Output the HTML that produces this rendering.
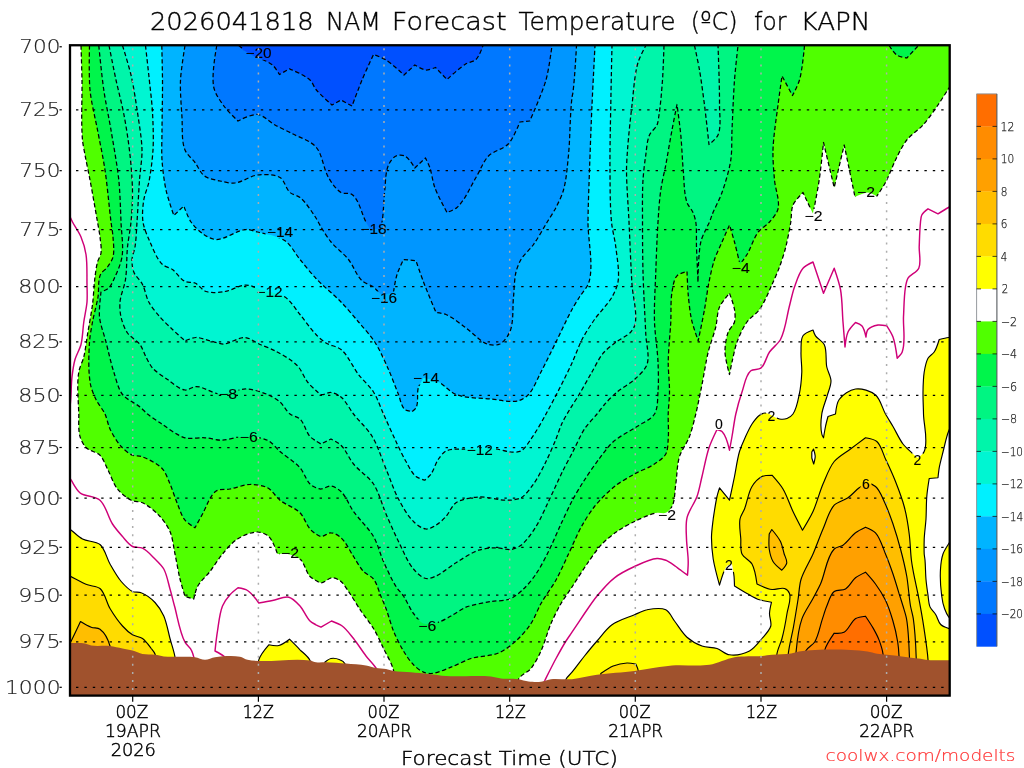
<!DOCTYPE html><html><head><meta charset="utf-8"><title>NAM Forecast Temperature KAPN</title><style>html,body{margin:0;padding:0;background:#fff;overflow:hidden}body{width:1024px;height:768px;position:relative}</style></head><body><svg width="1024" height="768" viewBox="0 0 1024 768" style="position:absolute;left:0;top:0">
<defs><clipPath id="pc"><rect x="70.00" y="45.25" width="879.70" height="650.35"/></clipPath>
<mask id="lm" maskUnits="userSpaceOnUse" x="0" y="0" width="1024" height="768"><rect x="0" y="0" width="1024" height="768" fill="#fff"/><rect x="244.0" y="46.7" width="29.0" height="13" fill="#000"/><rect x="265.5" y="225.5" width="29.0" height="13" fill="#000"/><rect x="359.0" y="222.5" width="29.0" height="13" fill="#000"/><rect x="255.0" y="285.0" width="29.0" height="13" fill="#000"/><rect x="369.5" y="291.5" width="29.0" height="13" fill="#000"/><rect x="411.5" y="371.5" width="29.0" height="13" fill="#000"/><rect x="217.5" y="387.5" width="21.0" height="13" fill="#000"/><rect x="238.2" y="430.0" width="21.0" height="13" fill="#000"/><rect x="465.2" y="443.0" width="29.0" height="13" fill="#000"/><rect x="279.5" y="546.2" width="21.0" height="13" fill="#000"/><rect x="416.8" y="619.5" width="21.0" height="13" fill="#000"/><rect x="656.5" y="508.5" width="21.0" height="13" fill="#000"/><rect x="730.2" y="261.8" width="21.0" height="13" fill="#000"/><rect x="803.0" y="209.0" width="21.0" height="13" fill="#000"/><rect x="855.5" y="185.5" width="21.0" height="13" fill="#000"/><rect x="713.6" y="417.0" width="10.8" height="13" fill="#000"/><rect x="766.1" y="409.5" width="10.8" height="13" fill="#000"/><rect x="723.6" y="558.8" width="10.8" height="13" fill="#000"/><rect x="912.1" y="453.2" width="10.8" height="13" fill="#000"/><rect x="860.6" y="477.0" width="10.8" height="13" fill="#000"/></mask></defs>
<rect x="0" y="0" width="1024" height="768" fill="#fff"/>
<g clip-path="url(#pc)">
<path d="M81.0 20.0 C81.0 20.0 80.9 37.9 81.0 45.5 C81.2 55.9 81.8 69.6 82.0 80.0 C82.3 98.0 80.9 122.1 82.5 140.0 C82.9 144.5 84.2 150.5 85.0 155.0 C86.4 162.5 88.6 172.5 90.0 180.0 C92.4 192.6 95.3 209.4 97.5 222.0 C98.3 226.5 99.5 232.5 100.0 237.0 C100.5 241.8 101.7 248.2 101.0 253.0 C100.6 255.9 98.3 259.2 97.5 262.0 C96.3 266.4 95.6 272.5 95.0 277.0 C93.9 285.2 93.6 296.3 92.5 304.5 C91.3 313.5 89.0 325.5 87.5 334.5 C86.4 341.2 85.4 350.4 83.8 357.0 C82.6 361.6 79.5 367.3 78.8 372.0 C76.7 384.4 78.4 401.4 78.8 414.0 C78.9 420.8 78.1 430.0 80.0 436.5 C81.1 440.2 83.5 445.0 86.2 447.8 C89.6 451.1 96.7 451.9 100.0 455.2 C103.3 458.6 105.3 464.8 107.5 469.0 C110.6 474.9 113.3 483.8 117.5 489.0 C120.8 493.2 126.5 497.9 131.2 500.2 C134.4 501.8 139.4 501.3 142.5 502.8 C148.5 505.6 155.5 511.6 160.0 516.5 C163.7 520.5 167.9 526.5 170.0 531.5 C172.7 537.9 173.6 547.2 175.0 554.0 C176.6 561.5 178.2 571.6 180.0 579.0 C181.3 584.3 185.0 596.5 185.0 596.5 L193.8 599.0 C193.8 599.0 195.6 589.9 197.5 586.5 C200.3 581.3 206.4 576.1 210.0 571.5 C213.9 566.4 218.3 558.9 222.5 554.0 C226.6 549.1 232.1 542.4 237.5 539.0 C242.9 535.6 251.1 531.9 257.5 532.0 C261.1 532.1 266.1 534.0 268.8 536.5 C273.1 540.5 277.5 554.0 277.5 554.0 C277.5 554.0 284.6 553.4 287.5 554.0 C291.5 554.8 297.0 556.3 300.0 559.0 C304.6 563.0 305.9 572.1 310.0 576.5 C311.5 578.1 314.1 579.5 316.0 580.5 C317.4 581.3 319.4 582.7 321.0 582.8 C324.7 582.8 328.6 577.8 332.2 577.8 C335.1 577.7 338.8 579.7 341.0 581.5 C343.9 583.8 346.4 588.4 348.5 591.5 C352.5 597.2 357.1 605.2 361.0 611.0 C364.6 616.3 370.2 623.0 373.5 628.5 C377.0 634.2 380.6 642.4 383.5 648.5 C386.6 655.0 392.0 663.4 393.5 670.5 C396.6 685.0 393.5 720.0 393.5 720.0 L518.5 720.0 C518.5 720.0 513.4 690.4 518.5 679.2 C520.6 674.8 527.9 672.3 531.0 668.5 C534.8 663.8 538.5 656.5 541.0 651.0 C544.7 643.0 547.5 631.6 551.0 623.5 C553.7 617.3 557.6 609.3 561.0 603.5 C564.0 598.4 568.7 592.0 572.0 587.0 C576.5 580.1 582.3 570.7 587.0 564.0 C591.3 557.9 596.8 549.4 602.0 544.0 C606.0 539.8 612.2 534.8 617.0 531.5 C622.0 528.1 629.0 524.1 634.5 521.5 C641.0 518.4 649.9 514.1 657.0 512.8 C659.6 512.3 663.3 513.8 665.8 512.8 C668.2 511.7 670.8 508.9 672.0 506.5 C675.1 500.4 674.7 490.8 675.8 484.0 C677.0 475.8 677.0 464.5 679.5 456.5 C681.5 450.1 687.1 442.8 689.5 436.5 C692.0 430.0 694.1 420.8 695.8 414.0 C697.9 405.2 700.2 393.4 702.0 384.5 C704.0 374.8 705.9 361.6 708.2 352.0 C710.1 344.4 713.9 334.6 715.8 327.0 C717.2 321.1 717.1 312.6 719.5 307.0 C721.5 302.3 729.5 293.2 729.5 293.2 C729.5 293.2 733.7 304.5 734.5 309.5 C735.1 313.2 735.5 318.4 734.5 322.0 C733.5 325.4 729.5 328.7 728.2 332.0 C726.1 337.7 724.9 345.9 725.0 352.0 C725.1 358.9 729.5 374.5 729.5 374.5 C729.5 374.5 731.2 365.7 732.0 362.0 C733.4 356.0 734.9 347.8 737.0 342.0 C739.3 335.7 743.1 327.4 747.0 322.0 C750.1 317.7 756.4 313.8 759.5 309.5 C764.4 302.7 768.5 292.1 772.0 284.5 C774.4 279.3 777.5 272.4 779.5 267.0 C781.7 261.1 784.2 253.1 785.8 247.0 C787.6 239.6 789.5 229.5 790.8 222.0 C791.6 216.9 791.0 209.7 793.0 205.0 C794.9 200.6 803.0 192.5 803.0 192.5 L813.0 213.8 C813.0 213.8 817.7 190.2 819.2 180.0 C820.9 168.8 823.5 142.5 823.5 142.5 L834.2 187.5 L844.2 145.0 L855.0 197.0 C855.0 197.0 863.9 192.4 868.0 192.5 C870.9 192.6 876.8 196.2 876.8 196.2 C876.8 196.2 883.2 186.8 885.5 182.5 C889.0 176.0 892.2 166.6 895.5 160.0 C898.6 153.8 902.5 145.4 906.8 140.0 C910.9 134.8 918.6 129.9 923.0 125.0 C928.0 119.4 933.7 111.2 938.0 105.0 C941.3 100.2 945.3 93.6 948.5 88.8 C956.3 77.0 970.8 63.5 975.0 50.0 C977.7 41.4 975.0 20.0 975.0 20.0 Z" fill="#50ff00"/>
<path d="M89.5 20.0 C89.5 20.0 89.5 37.9 89.5 45.5 C89.6 58.9 88.7 76.7 90.0 90.0 C91.2 102.2 95.2 118.0 97.5 130.0 C99.8 142.0 103.2 157.9 105.0 170.0 C107.3 185.5 109.1 206.4 111.0 222.0 C111.6 226.5 112.7 232.5 113.0 237.0 C113.4 243.0 114.5 251.2 113.0 257.0 C112.1 260.3 109.5 264.2 107.5 267.0 C105.7 269.5 101.8 271.7 100.5 274.5 C97.7 280.7 99.1 290.3 98.0 297.0 C96.7 304.6 93.9 314.4 92.5 322.0 C91.4 328.0 89.9 335.9 89.5 342.0 C88.7 354.7 88.1 372.0 90.5 384.5 C91.4 389.2 93.9 395.2 96.0 399.5 C98.2 404.1 102.8 409.4 105.0 414.0 C107.0 418.3 108.0 424.7 110.0 429.0 C112.7 434.6 117.0 441.9 121.2 446.5 C124.1 449.7 128.6 453.6 132.5 455.2 C134.9 456.3 138.7 455.6 141.2 456.5 C148.2 458.9 157.5 463.6 162.5 469.0 C165.9 472.7 168.0 479.4 170.0 484.0 C172.6 489.9 175.0 498.1 177.5 504.0 C179.6 509.0 181.6 516.1 185.0 520.2 C187.4 523.2 195.0 527.8 195.0 527.8 C195.0 527.8 200.2 518.1 202.5 514.0 C206.5 507.0 209.6 495.5 216.2 491.0 C219.7 488.7 225.9 489.8 230.0 489.0 C236.0 487.9 243.9 484.6 250.0 484.5 C255.3 484.4 262.8 485.3 267.5 487.8 C272.2 490.2 275.8 496.9 280.0 500.2 C285.5 504.7 295.0 507.7 300.0 512.8 C304.0 516.8 306.3 524.7 310.0 529.0 C311.5 530.8 314.0 532.7 316.0 534.0 C317.4 534.9 319.3 536.4 321.0 536.5 C324.2 536.7 327.8 532.6 331.0 532.8 C334.3 532.9 338.5 535.5 341.0 537.8 C346.1 542.2 349.8 550.9 353.5 556.5 C356.5 561.0 359.8 567.6 363.5 571.5 C366.1 574.2 371.2 576.1 373.5 579.0 C377.0 583.5 378.8 591.2 381.0 596.5 C382.5 600.1 384.6 604.8 386.0 608.5 C388.5 615.2 390.8 624.4 393.5 631.0 C396.1 637.2 400.0 645.3 403.5 651.0 C406.1 655.4 409.9 661.1 413.5 664.8 C416.1 667.4 420.1 670.8 423.5 672.2 C425.6 673.1 428.7 673.7 431.0 673.5 C437.3 673.1 445.1 669.5 451.0 667.2 C457.1 665.0 464.8 660.5 471.0 658.5 C479.0 656.0 490.7 656.3 498.5 653.0 C504.4 650.5 511.3 645.3 516.0 641.0 C521.1 636.4 527.2 629.3 531.0 623.5 C534.7 617.9 537.7 609.3 541.0 603.5 C545.1 596.2 551.9 587.3 556.0 580.0 C560.2 572.4 564.8 561.8 568.5 554.0 C572.4 545.8 577.1 534.5 581.5 526.5 C585.0 520.3 590.0 512.1 594.5 506.5 C599.8 499.9 607.9 491.8 614.5 486.5 C620.0 482.1 628.3 477.5 634.5 474.0 C640.4 470.7 648.9 467.8 654.5 464.0 C658.2 461.5 663.6 458.0 665.8 454.0 C668.0 450.0 667.9 443.5 668.2 439.0 C668.9 431.5 668.0 421.5 668.2 414.0 C668.4 407.4 669.5 398.6 669.5 392.0 C669.6 383.0 668.2 371.0 668.2 362.0 C668.4 350.0 670.1 334.0 670.8 322.0 C671.2 313.0 670.5 300.9 672.0 292.0 C672.9 287.0 673.6 279.5 677.0 275.8 C679.2 273.3 687.0 271.5 687.0 271.5 C687.0 271.5 687.6 287.6 688.2 294.5 C688.9 302.0 689.9 312.1 691.5 319.5 C692.9 326.0 698.2 340.8 698.2 340.8 C698.2 340.8 702.8 318.9 704.5 309.5 C706.0 301.3 707.3 290.2 709.0 282.0 C710.4 275.2 712.3 266.1 714.5 259.5 C716.3 254.1 719.7 247.2 722.0 242.0 C724.2 236.9 729.5 225.0 729.5 225.0 C729.5 225.0 733.1 236.9 734.5 242.0 C736.3 248.7 740.0 264.5 740.0 264.5 C740.0 264.5 745.1 257.6 747.0 254.5 C750.9 248.0 753.7 238.0 758.2 232.0 C761.0 228.4 766.6 225.4 769.5 222.0 C772.5 218.5 776.9 213.5 778.0 209.0 C780.0 200.5 775.2 188.7 774.5 180.0 C773.7 171.0 772.7 159.0 773.0 150.0 C773.4 136.4 776.3 118.5 778.0 105.0 C779.1 96.3 782.0 76.0 782.0 76.0 L792.5 95.5 C792.5 95.5 798.1 84.9 799.5 80.0 C802.4 70.0 803.7 55.9 804.5 45.5 C805.1 37.9 804.5 20.0 804.5 20.0 Z" fill="#00f54b"/>
<path d="M889.2 20.0 C889.2 20.0 886.7 38.3 889.2 45.5 C890.4 48.9 893.7 53.0 896.8 55.0 C899.3 56.8 906.8 58.0 906.8 58.0 C906.8 58.0 916.2 50.6 918.0 46.0 C920.9 38.7 918.0 20.0 918.0 20.0 Z" fill="#00f54b"/>
<path d="M98.8 20.0 C98.8 20.0 98.3 37.9 98.8 45.5 C99.5 58.9 101.8 76.7 103.8 90.0 C105.5 102.1 109.0 118.0 111.0 130.0 C113.5 145.0 117.2 164.9 118.8 180.0 C120.1 192.6 120.5 209.4 121.0 222.0 C121.4 232.5 123.7 246.6 122.0 257.0 C120.8 264.1 116.8 273.0 113.8 279.5 C112.5 282.2 110.9 286.0 108.8 288.0 C106.8 289.8 101.0 292.0 101.0 292.0 C101.0 292.0 98.8 309.5 99.5 317.0 C100.3 324.7 104.1 334.5 106.0 342.0 C108.3 351.0 110.9 363.2 113.8 372.0 C116.0 378.9 118.1 388.8 122.5 394.5 C126.5 399.6 135.0 402.9 140.0 407.0 C142.4 408.9 145.1 412.1 147.5 414.0 C151.1 416.9 156.2 420.3 160.0 422.8 C167.3 427.5 176.6 435.4 185.0 437.8 C190.8 439.4 199.0 437.3 205.0 437.8 C210.3 438.1 217.2 440.4 222.5 440.2 C227.8 440.1 234.7 437.2 240.0 437.0 C248.3 436.7 259.9 436.8 267.5 440.2 C272.1 442.3 276.2 448.2 280.0 451.5 C285.9 456.5 294.9 461.9 300.0 467.8 C303.8 472.1 306.0 479.9 310.0 484.0 C311.5 485.5 314.0 486.9 316.0 487.8 C317.4 488.4 319.5 489.0 321.0 489.0 C324.1 488.9 327.9 485.7 331.0 486.0 C334.4 486.4 338.5 489.1 341.0 491.5 C346.1 496.4 349.4 505.7 353.5 511.5 C359.1 519.3 368.7 528.2 373.5 536.5 C377.6 543.5 380.2 554.1 383.5 561.5 C386.9 569.1 391.5 579.4 396.0 586.5 C397.9 589.6 401.5 593.0 403.5 596.0 C406.9 601.0 409.8 608.7 413.5 613.5 C416.1 616.9 419.5 622.0 423.5 623.5 C427.7 625.1 434.2 623.5 438.5 622.2 C442.5 621.1 447.3 618.0 451.0 616.0 C455.6 613.5 461.2 609.2 466.0 607.2 C473.2 604.4 483.4 602.9 491.0 601.5 C496.6 600.5 504.5 601.1 509.8 599.0 C514.5 597.1 519.8 592.5 523.5 589.0 C527.8 585.0 532.7 578.8 536.0 574.0 C540.4 567.6 545.0 558.4 548.5 551.5 C552.6 543.4 557.2 532.2 561.0 524.0 C564.2 517.1 568.4 507.8 572.0 501.0 C575.2 495.0 579.8 487.2 583.5 481.5 C587.9 474.6 594.1 465.5 599.0 459.0 C603.1 453.6 608.4 446.0 613.5 441.5 C619.8 436.0 630.1 431.2 637.0 426.5 C642.3 422.9 651.1 419.5 654.5 414.0 C658.0 408.3 657.5 398.7 658.0 392.0 C658.7 383.0 658.4 371.0 658.0 362.0 C657.5 350.0 654.9 334.0 654.5 322.0 C654.0 307.0 655.2 287.0 655.8 272.0 C656.3 257.0 657.0 237.0 658.0 222.0 C658.6 212.4 659.4 199.5 660.8 190.0 C661.8 182.4 664.3 172.5 665.8 165.0 C667.7 154.5 670.0 140.5 672.0 130.0 C673.4 122.3 677.0 104.5 677.0 104.5 C677.0 104.5 679.9 125.8 680.8 135.0 C681.8 145.5 682.3 159.5 683.2 170.0 C684.2 179.8 683.8 193.2 687.0 202.5 C688.1 205.8 691.6 209.3 693.0 212.5 C694.2 215.2 695.3 219.1 695.8 222.0 C696.9 229.4 696.2 239.5 696.5 247.0 C696.9 257.5 698.0 282.0 698.0 282.0 C698.0 282.0 698.1 253.7 700.8 242.0 C701.6 238.1 704.1 233.2 705.8 229.5 C706.8 227.2 708.5 224.3 709.5 222.0 C710.4 219.9 711.2 217.1 712.0 215.0 C714.7 208.1 719.5 199.5 722.0 192.5 C725.4 183.0 729.2 170.0 730.8 160.0 C732.1 151.1 731.6 139.0 732.0 130.0 C732.7 115.0 733.4 95.0 734.5 80.0 C735.3 69.6 737.5 55.9 738.0 45.5 C738.4 37.9 738.0 20.0 738.0 20.0 Z" fill="#00f582"/>
<path d="M109.0 20.0 C109.0 20.0 108.2 37.9 109.0 45.5 C110.1 56.0 113.8 69.7 116.0 80.0 C118.3 90.5 122.0 104.4 124.0 115.0 C126.3 126.9 128.7 142.9 130.0 155.0 C131.2 166.1 132.4 180.9 132.5 192.0 C132.6 201.0 131.9 213.0 131.0 222.0 C130.3 229.5 128.3 239.5 127.5 247.0 C126.5 256.7 127.0 269.8 125.5 279.5 C124.5 286.4 120.6 295.1 120.0 302.0 C119.6 306.5 120.0 312.6 121.0 317.0 C122.2 322.0 124.5 328.7 127.5 333.0 C130.4 337.2 137.0 340.4 140.0 344.5 C142.5 347.8 144.0 353.3 146.0 357.0 C147.8 360.4 150.0 365.1 152.5 368.0 C156.3 372.2 162.8 376.3 167.5 379.5 C172.6 382.9 178.9 389.3 185.0 390.0 C188.4 390.4 192.5 386.5 196.0 386.5 C203.5 386.5 212.5 393.6 220.0 394.0 C227.9 394.4 238.1 388.8 246.0 389.0 C252.7 389.2 261.4 391.9 267.5 394.5 C271.5 396.2 276.7 399.2 280.0 402.0 C283.6 405.0 286.3 411.1 290.0 414.0 C292.6 416.1 297.6 416.7 300.0 419.0 C304.4 423.2 306.0 432.0 310.0 436.5 C311.5 438.2 314.1 439.7 316.0 441.0 C317.5 442.0 321.0 444.0 321.0 444.0 L331.0 439.0 C331.0 439.0 338.5 442.8 341.0 445.2 C345.9 450.0 349.2 458.8 353.5 464.0 C358.9 470.6 368.8 476.9 373.5 484.0 C378.9 492.1 382.1 505.1 386.0 514.0 C389.6 522.3 394.5 533.4 398.5 541.5 C402.7 549.9 407.4 561.9 413.5 569.0 C416.6 572.6 421.4 577.6 426.0 578.5 C429.0 579.1 433.2 577.2 436.0 576.0 C442.6 573.1 449.8 566.5 456.0 562.8 C462.6 558.7 471.2 552.7 478.5 550.2 C483.5 548.6 490.7 547.8 496.0 547.8 C500.5 547.7 506.5 550.1 511.0 549.5 C514.2 549.0 518.4 547.2 521.0 545.2 C526.7 540.9 532.1 532.6 536.0 526.5 C540.5 519.4 544.9 509.0 548.5 501.5 C552.8 492.6 558.1 480.4 562.5 471.5 C565.5 465.4 569.9 457.5 573.0 451.5 C576.5 444.8 580.3 435.3 584.5 429.0 C587.7 424.1 593.3 418.5 597.0 414.0 C599.3 411.2 602.1 407.2 604.5 404.5 C608.0 400.5 613.0 395.4 617.0 392.0 C621.9 387.8 629.8 383.9 634.5 379.5 C638.8 375.5 645.1 370.0 647.0 364.5 C649.9 356.0 646.1 343.5 645.8 334.5 C644.9 315.7 643.5 290.8 643.0 272.0 C642.6 257.0 642.5 237.0 642.5 222.0 C642.5 209.4 642.2 192.6 643.0 180.0 C643.5 172.5 644.6 162.5 645.8 155.0 C646.6 149.0 647.0 140.6 649.5 135.0 C651.0 131.6 655.5 128.4 657.0 125.0 C658.2 122.2 658.5 118.0 659.0 115.0 C660.6 104.6 661.7 90.5 662.5 80.0 C663.2 69.7 663.8 55.9 664.0 45.5 C664.2 37.9 664.0 20.0 664.0 20.0 Z" fill="#00f5aa"/>
<path d="M694.5 20.0 C694.5 20.0 693.7 37.9 694.5 45.5 C695.3 53.0 698.2 62.6 699.5 70.0 C701.3 80.5 703.1 94.5 704.5 105.0 C706.0 116.8 709.0 144.5 709.0 144.5 C709.0 144.5 716.5 138.6 718.0 135.0 C721.5 126.7 719.4 114.0 719.5 105.0 C719.7 87.1 718.2 63.4 718.0 45.5 C717.9 37.9 718.0 20.0 718.0 20.0 Z" fill="#00f5aa"/>
<path d="M122.5 20.0 C122.5 20.0 121.4 37.9 122.5 45.5 C123.8 54.6 128.9 66.0 131.0 75.0 C133.6 86.1 135.8 101.2 137.5 112.5 C139.1 123.7 141.8 138.7 142.0 150.0 C142.2 159.0 140.1 171.0 139.5 180.0 C138.6 192.6 137.9 209.4 137.0 222.0 C136.5 229.5 136.2 239.6 135.0 247.0 C134.4 250.8 132.2 255.6 132.0 259.5 C131.8 263.3 132.4 268.5 133.8 272.0 C135.4 276.3 140.4 280.4 142.5 284.5 C145.1 289.5 146.1 297.1 148.8 302.0 C151.4 307.0 156.3 312.8 160.0 317.0 C163.5 321.0 168.7 325.8 172.5 329.5 C176.2 333.0 185.0 340.8 185.0 340.8 C185.0 340.8 192.6 337.6 196.0 337.5 C200.3 337.4 205.8 339.8 210.0 340.8 C214.1 341.7 219.5 344.1 223.8 344.0 C230.4 343.8 238.3 337.0 245.0 337.5 C250.0 337.8 255.5 342.5 260.0 344.5 C264.5 346.5 270.7 348.4 275.0 350.8 C282.2 354.6 291.9 359.9 297.5 365.8 C301.5 369.9 304.0 377.5 307.5 382.0 C309.7 384.8 313.3 388.1 316.0 390.5 C317.4 391.8 319.1 394.0 321.0 394.5 C324.0 395.2 328.0 392.2 331.0 392.5 C334.3 392.9 338.4 394.9 341.0 397.0 C345.9 401.0 349.6 409.0 353.5 414.0 C358.9 420.9 367.7 429.0 372.2 436.5 C377.8 445.5 381.9 459.2 386.0 469.0 C389.8 478.0 393.9 490.4 398.5 499.0 C402.3 506.2 407.6 515.9 413.5 521.5 C416.7 524.5 421.6 528.6 426.0 529.0 C429.2 529.3 433.2 526.9 436.0 525.2 C439.4 523.2 443.3 519.4 446.0 516.5 C449.4 512.7 451.8 505.6 456.0 502.8 C461.8 498.8 471.6 497.5 478.5 497.0 C487.5 496.4 499.5 500.7 508.5 500.2 C512.3 500.1 517.7 499.6 521.0 497.8 C525.9 495.0 530.2 488.5 533.5 484.0 C538.0 477.7 542.6 468.4 546.0 461.5 C549.3 454.9 553.2 445.8 556.0 439.0 C557.9 434.3 559.9 427.9 562.0 423.3 C564.1 418.8 567.5 413.2 570.0 409.0 C572.5 404.8 576.2 399.4 578.7 395.2 C582.6 388.7 587.4 379.8 591.2 373.3 C594.9 367.0 599.0 358.0 603.7 352.5 C606.9 348.8 612.3 345.0 616.2 342.0 C620.4 338.8 627.2 335.9 630.8 332.0 C632.5 330.1 634.4 327.0 635.0 324.5 C637.6 312.8 632.7 296.5 632.0 284.5 C630.8 265.8 629.9 240.7 629.0 222.0 C628.3 206.4 626.5 185.6 626.5 170.0 C626.5 164.0 627.1 156.0 627.5 150.0 C628.5 136.5 630.4 118.5 632.0 105.0 C633.5 92.2 634.4 74.9 638.0 62.5 C639.6 57.1 644.6 51.0 645.8 45.5 C647.4 38.0 645.8 20.0 645.8 20.0 Z" fill="#00f5d2"/>
<path d="M145.5 20.0 C145.5 20.0 145.1 37.9 145.5 45.5 C146.0 54.4 147.8 66.1 148.8 75.0 C149.9 86.2 151.9 101.2 152.5 112.5 C153.1 123.7 153.7 138.8 153.0 150.0 C152.4 159.8 150.7 172.9 148.8 182.5 C147.6 187.8 144.6 194.6 143.8 200.0 C142.7 206.5 142.0 215.5 143.0 222.0 C144.0 228.3 147.4 236.2 150.0 242.0 C153.2 249.0 156.9 259.2 162.5 264.5 C164.9 266.8 169.8 267.6 172.5 269.5 C176.7 272.5 180.3 279.2 185.0 281.5 C187.7 282.8 192.2 281.8 195.0 283.0 C198.8 284.6 202.1 290.2 206.0 291.5 C211.4 293.3 219.4 292.4 225.0 291.5 C231.5 290.5 239.4 285.0 246.0 285.0 C251.0 285.0 257.2 288.5 262.0 290.0 C268.9 292.1 279.0 293.1 285.0 297.0 C290.8 300.8 295.6 309.2 300.0 314.5 C304.9 320.4 310.6 329.0 316.0 334.5 C318.7 337.3 322.7 340.9 326.0 343.0 C330.2 345.6 337.2 346.4 341.0 349.5 C348.1 355.3 352.9 367.3 358.5 374.5 C362.7 380.0 369.8 386.2 373.5 392.0 C377.4 398.1 380.5 407.4 383.5 414.0 C387.2 422.2 392.1 433.3 396.0 441.5 C398.9 447.6 402.6 455.7 406.0 461.5 C408.7 466.2 411.8 473.0 416.0 476.5 C418.2 478.3 424.8 480.2 424.8 480.2 C424.8 480.2 429.4 476.2 431.0 474.0 C433.9 469.9 435.6 463.1 438.5 459.0 C440.4 456.3 443.1 452.5 446.0 451.0 C451.4 448.3 460.0 449.3 466.0 449.0 C475.0 448.6 487.0 448.1 496.0 449.0 C500.6 449.5 506.4 451.8 511.0 452.0 C514.0 452.1 518.3 452.4 521.0 451.0 C525.1 448.8 528.3 442.8 531.0 439.0 C536.1 431.9 541.8 421.7 546.0 414.0 C554.3 399.0 564.7 378.6 572.0 363.0 C575.2 356.1 578.5 346.3 582.0 339.5 C585.3 333.2 590.4 325.3 594.5 319.5 C599.4 312.5 607.7 304.4 612.0 297.0 C614.4 292.8 617.2 286.8 618.0 282.0 C619.7 271.6 617.0 257.5 615.8 247.0 C614.9 239.4 612.2 229.6 611.5 222.0 C610.0 206.5 610.1 185.6 610.0 170.0 C609.8 150.5 610.4 124.5 610.8 105.0 C611.0 87.1 611.8 63.4 612.0 45.5 C612.1 37.9 612.0 20.0 612.0 20.0 Z" fill="#00f0ff"/>
<path d="M161.8 20.0 C161.8 20.0 161.7 37.9 161.8 45.5 C161.9 55.9 162.4 69.6 162.5 80.0 C162.6 95.0 162.1 115.0 162.0 130.0 C162.0 139.0 161.4 151.0 162.0 160.0 C162.6 169.1 164.1 181.1 166.0 190.0 C167.7 197.8 173.8 215.5 173.8 215.5 L183.8 206.0 C183.8 206.0 188.0 217.7 191.0 222.0 C194.1 226.4 199.3 231.6 203.8 234.5 C207.1 236.7 212.0 239.4 216.0 239.5 C225.5 239.8 236.5 230.0 246.0 229.5 C249.5 229.3 254.1 231.1 257.5 232.0 C265.9 234.2 277.9 235.8 285.0 240.8 C290.9 244.8 295.4 253.9 300.0 259.5 C304.7 265.3 310.9 273.1 316.0 278.5 C323.1 286.0 333.9 294.6 341.0 302.0 C346.5 307.7 353.4 315.9 358.5 322.0 C363.5 327.9 370.6 335.5 374.8 342.0 C379.8 349.8 384.7 361.1 388.5 369.5 C391.8 376.9 395.4 387.0 398.5 394.5 C400.3 399.0 401.1 406.3 404.8 409.5 C406.5 411.0 412.2 411.5 412.2 411.5 C412.2 411.5 415.3 409.4 416.0 408.0 C418.9 402.3 416.5 393.0 418.5 387.0 C419.5 384.1 423.5 378.0 423.5 378.0 C423.5 378.0 434.3 380.0 438.5 382.0 C444.3 384.8 450.0 392.1 456.0 394.5 C465.9 398.4 480.5 398.0 491.0 399.0 C499.2 399.8 510.5 402.8 518.5 400.8 C521.9 399.9 526.1 397.1 528.5 394.5 C533.8 388.9 537.4 378.8 541.0 372.0 C545.7 363.1 551.5 351.0 556.0 342.0 C560.8 332.3 566.8 319.0 572.0 309.5 C574.1 305.7 577.2 300.7 579.5 297.0 C582.3 292.5 587.6 287.1 589.0 282.0 C593.9 264.7 587.9 240.0 588.0 222.0 C588.1 206.4 589.0 185.6 589.5 170.0 C590.2 150.5 591.1 124.5 592.0 105.0 C592.8 87.1 594.5 63.4 595.0 45.5 C595.2 37.9 595.0 20.0 595.0 20.0 Z" fill="#00b4ff"/>
<path d="M185.0 20.0 C185.0 20.0 185.5 37.9 185.0 45.5 C184.3 55.9 181.0 69.6 180.5 80.0 C180.0 91.2 181.3 106.3 182.0 117.5 C182.6 127.3 181.3 140.9 185.0 150.0 C186.8 154.5 192.1 158.7 195.0 162.5 C198.0 166.5 200.5 173.1 204.5 176.0 C208.4 178.9 215.2 179.9 220.0 181.0 C224.4 182.0 230.5 183.5 235.0 183.0 C242.1 182.3 250.4 175.8 257.5 175.0 C264.2 174.2 274.2 174.0 280.0 177.5 C284.6 180.3 285.9 188.9 290.0 192.5 C292.5 194.7 297.4 195.4 300.0 197.5 C306.0 202.4 311.7 211.5 316.0 218.0 C317.7 220.6 319.4 224.4 321.0 227.0 C323.8 231.6 327.6 237.8 331.0 242.0 C335.7 247.7 343.9 253.7 348.5 259.5 C353.2 265.4 356.5 275.6 362.0 280.8 C364.9 283.4 370.3 284.7 373.5 287.0 C376.3 288.9 378.7 293.6 382.0 294.5 C385.4 295.4 393.5 292.0 393.5 292.0 C393.5 292.0 395.4 279.6 397.0 274.5 C398.5 269.8 403.5 259.5 403.5 259.5 L416.0 260.8 C416.0 260.8 421.1 275.7 423.5 282.0 C427.0 291.2 436.0 312.5 436.0 312.5 C436.0 312.5 443.2 313.3 446.0 314.5 C452.7 317.3 460.1 323.8 466.0 328.0 C472.8 332.8 480.5 342.1 488.5 344.5 C491.7 345.5 496.7 345.5 499.8 344.0 C503.9 341.9 507.9 336.3 509.8 332.0 C513.9 322.3 512.4 307.5 513.5 297.0 C514.3 289.5 514.2 279.3 516.0 272.0 C517.0 268.1 518.9 263.0 521.0 259.5 C524.0 254.5 530.1 249.3 533.5 244.5 C538.1 238.1 543.1 228.8 547.2 222.0 C549.9 217.7 553.7 212.0 556.0 207.5 C558.6 202.4 562.0 195.5 563.5 190.0 C566.4 179.8 567.4 165.6 568.5 155.0 C570.2 137.8 569.9 114.7 572.0 97.5 C572.2 95.8 572.8 93.7 573.0 92.0 C574.8 78.1 576.0 59.5 576.5 45.5 C576.8 37.9 576.5 20.0 576.5 20.0 Z" fill="#0096ff"/>
<path d="M216.8 20.0 C216.8 20.0 217.0 37.9 216.8 45.5 C216.3 58.1 211.0 75.2 213.8 87.5 C215.3 94.2 220.9 102.0 225.0 107.5 C228.4 112.0 238.0 121.0 238.0 121.0 C238.0 121.0 251.4 113.8 257.5 114.5 C263.6 115.2 269.6 122.1 275.0 125.0 C280.1 127.8 287.3 131.0 292.5 133.8 C299.6 137.5 310.6 140.9 316.0 147.0 C322.5 154.4 323.4 169.0 328.5 177.5 C331.5 182.5 335.9 189.5 341.0 192.5 C343.9 194.2 349.3 192.5 352.0 194.5 C359.4 200.0 361.6 213.9 366.0 222.0 C367.1 224.1 370.0 229.0 370.0 229.0 L380.0 229.0 C380.0 229.0 381.6 224.1 382.0 222.0 C383.7 212.5 383.6 199.6 384.8 190.0 C385.6 182.5 385.4 171.9 388.5 165.0 C389.9 161.8 392.8 157.5 396.0 156.0 C398.4 154.9 402.4 154.9 404.8 156.0 C409.0 158.0 414.8 168.0 414.8 168.0 L425.5 158.0 C425.5 158.0 428.7 164.5 429.8 167.5 C431.8 173.3 432.6 181.7 434.8 187.5 C437.6 195.3 447.0 212.5 447.0 212.5 C447.0 212.5 454.5 209.7 457.0 207.5 C464.9 200.4 470.5 186.6 476.0 177.5 C479.9 171.1 483.3 161.3 488.5 156.0 C493.4 151.0 503.7 148.9 508.5 143.8 C513.5 138.4 519.8 122.0 519.8 122.0 L529.8 121.0 C529.8 121.0 542.4 92.7 546.0 80.0 C548.9 69.9 551.1 56.0 552.0 45.5 C552.7 37.9 552.0 20.0 552.0 20.0 Z" fill="#0078ff"/>
<path d="M238.8 20.0 C238.8 20.0 235.3 38.7 238.8 45.5 C240.6 49.3 246.4 51.8 250.0 54.0 C256.4 57.9 266.7 60.2 272.5 65.0 C275.2 67.3 279.5 74.5 279.5 74.5 L289.5 68.8 C289.5 68.8 304.9 75.2 310.0 80.0 C312.5 82.3 313.9 86.9 316.0 89.5 C320.2 94.7 332.0 105.0 332.0 105.0 L341.0 100.0 L352.0 106.0 C352.0 106.0 358.8 87.7 362.0 80.0 C365.2 72.3 373.5 54.5 373.5 54.5 C373.5 54.5 382.5 57.8 386.0 60.0 C392.0 63.7 404.0 75.0 404.0 75.0 L414.8 65.0 C414.8 65.0 422.3 69.7 426.0 70.0 C428.9 70.2 435.5 67.5 435.5 67.5 L447.0 79.5 C447.0 79.5 459.7 67.6 466.0 63.8 C468.8 62.1 473.6 61.7 476.0 59.5 C479.4 56.3 481.9 50.1 483.0 45.5 C484.8 38.1 483.0 20.0 483.0 20.0 Z" fill="#0050ff"/>
<g mask="url(#lm)"><path d="M81.0 45.5 C81.0 45.5 81.8 69.6 82.0 80.0 C82.3 98.0 80.9 122.1 82.5 140.0 C82.9 144.5 84.2 150.5 85.0 155.0 C86.4 162.5 88.6 172.5 90.0 180.0 C92.4 192.6 95.3 209.4 97.5 222.0 C98.3 226.5 99.5 232.5 100.0 237.0 C100.5 241.8 101.7 248.2 101.0 253.0 C100.6 255.9 98.3 259.2 97.5 262.0 C96.3 266.4 95.6 272.5 95.0 277.0 C93.9 285.2 93.6 296.3 92.5 304.5 C91.3 313.5 89.0 325.5 87.5 334.5 C86.4 341.2 85.4 350.4 83.8 357.0 C82.6 361.6 79.5 367.3 78.8 372.0 C76.7 384.4 78.4 401.4 78.8 414.0 C78.9 420.8 78.1 430.0 80.0 436.5 C81.1 440.2 83.5 445.0 86.2 447.8 C89.6 451.1 96.7 451.9 100.0 455.2 C103.3 458.6 105.3 464.8 107.5 469.0 C110.6 474.9 113.3 483.8 117.5 489.0 C120.8 493.2 126.5 497.9 131.2 500.2 C134.4 501.8 139.4 501.3 142.5 502.8 C148.5 505.6 155.5 511.6 160.0 516.5 C163.7 520.5 167.9 526.5 170.0 531.5 C172.7 537.9 173.6 547.2 175.0 554.0 C176.6 561.5 178.2 571.6 180.0 579.0 C181.3 584.3 185.0 596.5 185.0 596.5 L193.8 599.0 C193.8 599.0 195.6 589.9 197.5 586.5 C200.3 581.3 206.4 576.1 210.0 571.5 C213.9 566.4 218.3 558.9 222.5 554.0 C226.6 549.1 232.1 542.4 237.5 539.0 C242.9 535.6 251.1 531.9 257.5 532.0 C261.1 532.1 266.1 534.0 268.8 536.5 C273.1 540.5 277.5 554.0 277.5 554.0 C277.5 554.0 284.6 553.4 287.5 554.0 C291.5 554.8 297.0 556.3 300.0 559.0 C304.6 563.0 305.9 572.1 310.0 576.5 C311.5 578.1 314.1 579.5 316.0 580.5 C317.4 581.3 319.4 582.7 321.0 582.8 C324.7 582.8 328.6 577.8 332.2 577.8 C335.1 577.7 338.8 579.7 341.0 581.5 C343.9 583.8 346.4 588.4 348.5 591.5 C352.5 597.2 357.1 605.2 361.0 611.0 C364.6 616.3 370.2 623.0 373.5 628.5 C377.0 634.2 380.6 642.4 383.5 648.5 C386.6 655.0 392.0 663.4 393.5 670.5 C396.6 685.0 393.5 720.0 393.5 720.0 L518.5 720.0 C518.5 720.0 513.4 690.4 518.5 679.2 C520.6 674.8 527.9 672.3 531.0 668.5 C534.8 663.8 538.5 656.5 541.0 651.0 C544.7 643.0 547.5 631.6 551.0 623.5 C553.7 617.3 557.6 609.3 561.0 603.5 C564.0 598.4 568.7 592.0 572.0 587.0 C576.5 580.1 582.3 570.7 587.0 564.0 C591.3 557.9 596.8 549.4 602.0 544.0 C606.0 539.8 612.2 534.8 617.0 531.5 C622.0 528.1 629.0 524.1 634.5 521.5 C641.0 518.4 649.9 514.1 657.0 512.8 C659.6 512.3 663.3 513.8 665.8 512.8 C668.2 511.7 670.8 508.9 672.0 506.5 C675.1 500.4 674.7 490.8 675.8 484.0 C677.0 475.8 677.0 464.5 679.5 456.5 C681.5 450.1 687.1 442.8 689.5 436.5 C692.0 430.0 694.1 420.8 695.8 414.0 C697.9 405.2 700.2 393.4 702.0 384.5 C704.0 374.8 705.9 361.6 708.2 352.0 C710.1 344.4 713.9 334.6 715.8 327.0 C717.2 321.1 717.1 312.6 719.5 307.0 C721.5 302.3 729.5 293.2 729.5 293.2 C729.5 293.2 733.7 304.5 734.5 309.5 C735.1 313.2 735.5 318.4 734.5 322.0 C733.5 325.4 729.5 328.7 728.2 332.0 C726.1 337.7 724.9 345.9 725.0 352.0 C725.1 358.9 729.5 374.5 729.5 374.5 C729.5 374.5 731.2 365.7 732.0 362.0 C733.4 356.0 734.9 347.8 737.0 342.0 C739.3 335.7 743.1 327.4 747.0 322.0 C750.1 317.7 756.4 313.8 759.5 309.5 C764.4 302.7 768.5 292.1 772.0 284.5 C774.4 279.3 777.5 272.4 779.5 267.0 C781.7 261.1 784.2 253.1 785.8 247.0 C787.6 239.6 789.5 229.5 790.8 222.0 C791.6 216.9 791.0 209.7 793.0 205.0 C794.9 200.6 803.0 192.5 803.0 192.5 L813.0 213.8 C813.0 213.8 817.7 190.2 819.2 180.0 C820.9 168.8 823.5 142.5 823.5 142.5 L834.2 187.5 L844.2 145.0 L855.0 197.0 C855.0 197.0 863.9 192.4 868.0 192.5 C870.9 192.6 876.8 196.2 876.8 196.2 C876.8 196.2 883.2 186.8 885.5 182.5 C889.0 176.0 892.2 166.6 895.5 160.0 C898.6 153.8 902.5 145.4 906.8 140.0 C910.9 134.8 918.6 129.9 923.0 125.0 C928.0 119.4 933.7 111.2 938.0 105.0 C941.3 100.2 945.3 93.6 948.5 88.8 C956.3 77.0 975.0 50.0 975.0 50.0" fill="none" stroke="#000" stroke-width="1.25" stroke-dasharray="4.3 2.6" stroke-linejoin="round"/><path d="M89.5 45.5 C89.5 45.5 88.7 76.7 90.0 90.0 C91.2 102.2 95.2 118.0 97.5 130.0 C99.8 142.0 103.2 157.9 105.0 170.0 C107.3 185.5 109.1 206.4 111.0 222.0 C111.6 226.5 112.7 232.5 113.0 237.0 C113.4 243.0 114.5 251.2 113.0 257.0 C112.1 260.3 109.5 264.2 107.5 267.0 C105.7 269.5 101.8 271.7 100.5 274.5 C97.7 280.7 99.1 290.3 98.0 297.0 C96.7 304.6 93.9 314.4 92.5 322.0 C91.4 328.0 89.9 335.9 89.5 342.0 C88.7 354.7 88.1 372.0 90.5 384.5 C91.4 389.2 93.9 395.2 96.0 399.5 C98.2 404.1 102.8 409.4 105.0 414.0 C107.0 418.3 108.0 424.7 110.0 429.0 C112.7 434.6 117.0 441.9 121.2 446.5 C124.1 449.7 128.6 453.6 132.5 455.2 C134.9 456.3 138.7 455.6 141.2 456.5 C148.2 458.9 157.5 463.6 162.5 469.0 C165.9 472.7 168.0 479.4 170.0 484.0 C172.6 489.9 175.0 498.1 177.5 504.0 C179.6 509.0 181.6 516.1 185.0 520.2 C187.4 523.2 195.0 527.8 195.0 527.8 C195.0 527.8 200.2 518.1 202.5 514.0 C206.5 507.0 209.6 495.5 216.2 491.0 C219.7 488.7 225.9 489.8 230.0 489.0 C236.0 487.9 243.9 484.6 250.0 484.5 C255.3 484.4 262.8 485.3 267.5 487.8 C272.2 490.2 275.8 496.9 280.0 500.2 C285.5 504.7 295.0 507.7 300.0 512.8 C304.0 516.8 306.3 524.7 310.0 529.0 C311.5 530.8 314.0 532.7 316.0 534.0 C317.4 534.9 319.3 536.4 321.0 536.5 C324.2 536.7 327.8 532.6 331.0 532.8 C334.3 532.9 338.5 535.5 341.0 537.8 C346.1 542.2 349.8 550.9 353.5 556.5 C356.5 561.0 359.8 567.6 363.5 571.5 C366.1 574.2 371.2 576.1 373.5 579.0 C377.0 583.5 378.8 591.2 381.0 596.5 C382.5 600.1 384.6 604.8 386.0 608.5 C388.5 615.2 390.8 624.4 393.5 631.0 C396.1 637.2 400.0 645.3 403.5 651.0 C406.1 655.4 409.9 661.1 413.5 664.8 C416.1 667.4 420.1 670.8 423.5 672.2 C425.6 673.1 428.7 673.7 431.0 673.5 C437.3 673.1 445.1 669.5 451.0 667.2 C457.1 665.0 464.8 660.5 471.0 658.5 C479.0 656.0 490.7 656.3 498.5 653.0 C504.4 650.5 511.3 645.3 516.0 641.0 C521.1 636.4 527.2 629.3 531.0 623.5 C534.7 617.9 537.7 609.3 541.0 603.5 C545.1 596.2 551.9 587.3 556.0 580.0 C560.2 572.4 564.8 561.8 568.5 554.0 C572.4 545.8 577.1 534.5 581.5 526.5 C585.0 520.3 590.0 512.1 594.5 506.5 C599.8 499.9 607.9 491.8 614.5 486.5 C620.0 482.1 628.3 477.5 634.5 474.0 C640.4 470.7 648.9 467.8 654.5 464.0 C658.2 461.5 663.6 458.0 665.8 454.0 C668.0 450.0 667.9 443.5 668.2 439.0 C668.9 431.5 668.0 421.5 668.2 414.0 C668.4 407.4 669.5 398.6 669.5 392.0 C669.6 383.0 668.2 371.0 668.2 362.0 C668.4 350.0 670.1 334.0 670.8 322.0 C671.2 313.0 670.5 300.9 672.0 292.0 C672.9 287.0 673.6 279.5 677.0 275.8 C679.2 273.3 687.0 271.5 687.0 271.5 C687.0 271.5 687.6 287.6 688.2 294.5 C688.9 302.0 689.9 312.1 691.5 319.5 C692.9 326.0 698.2 340.8 698.2 340.8 C698.2 340.8 702.8 318.9 704.5 309.5 C706.0 301.3 707.3 290.2 709.0 282.0 C710.4 275.2 712.3 266.1 714.5 259.5 C716.3 254.1 719.7 247.2 722.0 242.0 C724.2 236.9 729.5 225.0 729.5 225.0 C729.5 225.0 733.1 236.9 734.5 242.0 C736.3 248.7 740.0 264.5 740.0 264.5 C740.0 264.5 745.1 257.6 747.0 254.5 C750.9 248.0 753.7 238.0 758.2 232.0 C761.0 228.4 766.6 225.4 769.5 222.0 C772.5 218.5 776.9 213.5 778.0 209.0 C780.0 200.5 775.2 188.7 774.5 180.0 C773.7 171.0 772.7 159.0 773.0 150.0 C773.4 136.4 776.3 118.5 778.0 105.0 C779.1 96.3 782.0 76.0 782.0 76.0 L792.5 95.5 C792.5 95.5 798.1 84.9 799.5 80.0 C802.4 70.0 804.5 45.5 804.5 45.5" fill="none" stroke="#000" stroke-width="1.25" stroke-dasharray="4.3 2.6" stroke-linejoin="round"/><path d="M889.2 45.5 C889.2 45.5 893.7 53.0 896.8 55.0 C899.3 56.8 906.8 58.0 906.8 58.0 L918.0 46.0" fill="none" stroke="#000" stroke-width="1.25" stroke-dasharray="4.3 2.6" stroke-linejoin="round"/><path d="M98.8 45.5 C98.8 45.5 101.8 76.7 103.8 90.0 C105.5 102.1 109.0 118.0 111.0 130.0 C113.5 145.0 117.2 164.9 118.8 180.0 C120.1 192.6 120.5 209.4 121.0 222.0 C121.4 232.5 123.7 246.6 122.0 257.0 C120.8 264.1 116.8 273.0 113.8 279.5 C112.5 282.2 110.9 286.0 108.8 288.0 C106.8 289.8 101.0 292.0 101.0 292.0 C101.0 292.0 98.8 309.5 99.5 317.0 C100.3 324.7 104.1 334.5 106.0 342.0 C108.3 351.0 110.9 363.2 113.8 372.0 C116.0 378.9 118.1 388.8 122.5 394.5 C126.5 399.6 135.0 402.9 140.0 407.0 C142.4 408.9 145.1 412.1 147.5 414.0 C151.1 416.9 156.2 420.3 160.0 422.8 C167.3 427.5 176.6 435.4 185.0 437.8 C190.8 439.4 199.0 437.3 205.0 437.8 C210.3 438.1 217.2 440.4 222.5 440.2 C227.8 440.1 234.7 437.2 240.0 437.0 C248.3 436.7 259.9 436.8 267.5 440.2 C272.1 442.3 276.2 448.2 280.0 451.5 C285.9 456.5 294.9 461.9 300.0 467.8 C303.8 472.1 306.0 479.9 310.0 484.0 C311.5 485.5 314.0 486.9 316.0 487.8 C317.4 488.4 319.5 489.0 321.0 489.0 C324.1 488.9 327.9 485.7 331.0 486.0 C334.4 486.4 338.5 489.1 341.0 491.5 C346.1 496.4 349.4 505.7 353.5 511.5 C359.1 519.3 368.7 528.2 373.5 536.5 C377.6 543.5 380.2 554.1 383.5 561.5 C386.9 569.1 391.5 579.4 396.0 586.5 C397.9 589.6 401.5 593.0 403.5 596.0 C406.9 601.0 409.8 608.7 413.5 613.5 C416.1 616.9 419.5 622.0 423.5 623.5 C427.7 625.1 434.2 623.5 438.5 622.2 C442.5 621.1 447.3 618.0 451.0 616.0 C455.6 613.5 461.2 609.2 466.0 607.2 C473.2 604.4 483.4 602.9 491.0 601.5 C496.6 600.5 504.5 601.1 509.8 599.0 C514.5 597.1 519.8 592.5 523.5 589.0 C527.8 585.0 532.7 578.8 536.0 574.0 C540.4 567.6 545.0 558.4 548.5 551.5 C552.6 543.4 557.2 532.2 561.0 524.0 C564.2 517.1 568.4 507.8 572.0 501.0 C575.2 495.0 579.8 487.2 583.5 481.5 C587.9 474.6 594.1 465.5 599.0 459.0 C603.1 453.6 608.4 446.0 613.5 441.5 C619.8 436.0 630.1 431.2 637.0 426.5 C642.3 422.9 651.1 419.5 654.5 414.0 C658.0 408.3 657.5 398.7 658.0 392.0 C658.7 383.0 658.4 371.0 658.0 362.0 C657.5 350.0 654.9 334.0 654.5 322.0 C654.0 307.0 655.2 287.0 655.8 272.0 C656.3 257.0 657.0 237.0 658.0 222.0 C658.6 212.4 659.4 199.5 660.8 190.0 C661.8 182.4 664.3 172.5 665.8 165.0 C667.7 154.5 670.0 140.5 672.0 130.0 C673.4 122.3 677.0 104.5 677.0 104.5 C677.0 104.5 679.9 125.8 680.8 135.0 C681.8 145.5 682.3 159.5 683.2 170.0 C684.2 179.8 683.8 193.2 687.0 202.5 C688.1 205.8 691.6 209.3 693.0 212.5 C694.2 215.2 695.3 219.1 695.8 222.0 C696.9 229.4 696.2 239.5 696.5 247.0 C696.9 257.5 698.0 282.0 698.0 282.0 C698.0 282.0 698.1 253.7 700.8 242.0 C701.6 238.1 704.1 233.2 705.8 229.5 C706.8 227.2 708.5 224.3 709.5 222.0 C710.4 219.9 711.2 217.1 712.0 215.0 C714.7 208.1 719.5 199.5 722.0 192.5 C725.4 183.0 729.2 170.0 730.8 160.0 C732.1 151.1 731.6 139.0 732.0 130.0 C732.7 115.0 733.4 95.0 734.5 80.0 C735.3 69.6 738.0 45.5 738.0 45.5" fill="none" stroke="#000" stroke-width="1.25" stroke-dasharray="4.3 2.6" stroke-linejoin="round"/><path d="M109.0 45.5 C109.0 45.5 113.8 69.7 116.0 80.0 C118.3 90.5 122.0 104.4 124.0 115.0 C126.3 126.9 128.7 142.9 130.0 155.0 C131.2 166.1 132.4 180.9 132.5 192.0 C132.6 201.0 131.9 213.0 131.0 222.0 C130.3 229.5 128.3 239.5 127.5 247.0 C126.5 256.7 127.0 269.8 125.5 279.5 C124.5 286.4 120.6 295.1 120.0 302.0 C119.6 306.5 120.0 312.6 121.0 317.0 C122.2 322.0 124.5 328.7 127.5 333.0 C130.4 337.2 137.0 340.4 140.0 344.5 C142.5 347.8 144.0 353.3 146.0 357.0 C147.8 360.4 150.0 365.1 152.5 368.0 C156.3 372.2 162.8 376.3 167.5 379.5 C172.6 382.9 178.9 389.3 185.0 390.0 C188.4 390.4 192.5 386.5 196.0 386.5 C203.5 386.5 212.5 393.6 220.0 394.0 C227.9 394.4 238.1 388.8 246.0 389.0 C252.7 389.2 261.4 391.9 267.5 394.5 C271.5 396.2 276.7 399.2 280.0 402.0 C283.6 405.0 286.3 411.1 290.0 414.0 C292.6 416.1 297.6 416.7 300.0 419.0 C304.4 423.2 306.0 432.0 310.0 436.5 C311.5 438.2 314.1 439.7 316.0 441.0 C317.5 442.0 321.0 444.0 321.0 444.0 L331.0 439.0 C331.0 439.0 338.5 442.8 341.0 445.2 C345.9 450.0 349.2 458.8 353.5 464.0 C358.9 470.6 368.8 476.9 373.5 484.0 C378.9 492.1 382.1 505.1 386.0 514.0 C389.6 522.3 394.5 533.4 398.5 541.5 C402.7 549.9 407.4 561.9 413.5 569.0 C416.6 572.6 421.4 577.6 426.0 578.5 C429.0 579.1 433.2 577.2 436.0 576.0 C442.6 573.1 449.8 566.5 456.0 562.8 C462.6 558.7 471.2 552.7 478.5 550.2 C483.5 548.6 490.7 547.8 496.0 547.8 C500.5 547.7 506.5 550.1 511.0 549.5 C514.2 549.0 518.4 547.2 521.0 545.2 C526.7 540.9 532.1 532.6 536.0 526.5 C540.5 519.4 544.9 509.0 548.5 501.5 C552.8 492.6 558.1 480.4 562.5 471.5 C565.5 465.4 569.9 457.5 573.0 451.5 C576.5 444.8 580.3 435.3 584.5 429.0 C587.7 424.1 593.3 418.5 597.0 414.0 C599.3 411.2 602.1 407.2 604.5 404.5 C608.0 400.5 613.0 395.4 617.0 392.0 C621.9 387.8 629.8 383.9 634.5 379.5 C638.8 375.5 645.1 370.0 647.0 364.5 C649.9 356.0 646.1 343.5 645.8 334.5 C644.9 315.7 643.5 290.8 643.0 272.0 C642.6 257.0 642.5 237.0 642.5 222.0 C642.5 209.4 642.2 192.6 643.0 180.0 C643.5 172.5 644.6 162.5 645.8 155.0 C646.6 149.0 647.0 140.6 649.5 135.0 C651.0 131.6 655.5 128.4 657.0 125.0 C658.2 122.2 658.5 118.0 659.0 115.0 C660.6 104.6 661.7 90.5 662.5 80.0 C663.2 69.7 664.0 45.5 664.0 45.5" fill="none" stroke="#000" stroke-width="1.25" stroke-dasharray="4.3 2.6" stroke-linejoin="round"/><path d="M694.5 45.5 C694.5 45.5 698.2 62.6 699.5 70.0 C701.3 80.5 703.1 94.5 704.5 105.0 C706.0 116.8 709.0 144.5 709.0 144.5 C709.0 144.5 716.5 138.6 718.0 135.0 C721.5 126.7 719.4 114.0 719.5 105.0 C719.7 87.1 718.0 45.5 718.0 45.5" fill="none" stroke="#000" stroke-width="1.25" stroke-dasharray="4.3 2.6" stroke-linejoin="round"/><path d="M122.5 45.5 C122.5 45.5 128.9 66.0 131.0 75.0 C133.6 86.1 135.8 101.2 137.5 112.5 C139.1 123.7 141.8 138.7 142.0 150.0 C142.2 159.0 140.1 171.0 139.5 180.0 C138.6 192.6 137.9 209.4 137.0 222.0 C136.5 229.5 136.2 239.6 135.0 247.0 C134.4 250.8 132.2 255.6 132.0 259.5 C131.8 263.3 132.4 268.5 133.8 272.0 C135.4 276.3 140.4 280.4 142.5 284.5 C145.1 289.5 146.1 297.1 148.8 302.0 C151.4 307.0 156.3 312.8 160.0 317.0 C163.5 321.0 168.7 325.8 172.5 329.5 C176.2 333.0 185.0 340.8 185.0 340.8 C185.0 340.8 192.6 337.6 196.0 337.5 C200.3 337.4 205.8 339.8 210.0 340.8 C214.1 341.7 219.5 344.1 223.8 344.0 C230.4 343.8 238.3 337.0 245.0 337.5 C250.0 337.8 255.5 342.5 260.0 344.5 C264.5 346.5 270.7 348.4 275.0 350.8 C282.2 354.6 291.9 359.9 297.5 365.8 C301.5 369.9 304.0 377.5 307.5 382.0 C309.7 384.8 313.3 388.1 316.0 390.5 C317.4 391.8 319.1 394.0 321.0 394.5 C324.0 395.2 328.0 392.2 331.0 392.5 C334.3 392.9 338.4 394.9 341.0 397.0 C345.9 401.0 349.6 409.0 353.5 414.0 C358.9 420.9 367.7 429.0 372.2 436.5 C377.8 445.5 381.9 459.2 386.0 469.0 C389.8 478.0 393.9 490.4 398.5 499.0 C402.3 506.2 407.6 515.9 413.5 521.5 C416.7 524.5 421.6 528.6 426.0 529.0 C429.2 529.3 433.2 526.9 436.0 525.2 C439.4 523.2 443.3 519.4 446.0 516.5 C449.4 512.7 451.8 505.6 456.0 502.8 C461.8 498.8 471.6 497.5 478.5 497.0 C487.5 496.4 499.5 500.7 508.5 500.2 C512.3 500.1 517.7 499.6 521.0 497.8 C525.9 495.0 530.2 488.5 533.5 484.0 C538.0 477.7 542.6 468.4 546.0 461.5 C549.3 454.9 553.2 445.8 556.0 439.0 C557.9 434.3 559.9 427.9 562.0 423.3 C564.1 418.8 567.5 413.2 570.0 409.0 C572.5 404.8 576.2 399.4 578.7 395.2 C582.6 388.7 587.4 379.8 591.2 373.3 C594.9 367.0 599.0 358.0 603.7 352.5 C606.9 348.8 612.3 345.0 616.2 342.0 C620.4 338.8 627.2 335.9 630.8 332.0 C632.5 330.1 634.4 327.0 635.0 324.5 C637.6 312.8 632.7 296.5 632.0 284.5 C630.8 265.8 629.9 240.7 629.0 222.0 C628.3 206.4 626.5 185.6 626.5 170.0 C626.5 164.0 627.1 156.0 627.5 150.0 C628.5 136.5 630.4 118.5 632.0 105.0 C633.5 92.2 634.4 74.9 638.0 62.5 C639.6 57.1 645.8 45.5 645.8 45.5" fill="none" stroke="#000" stroke-width="1.25" stroke-dasharray="4.3 2.6" stroke-linejoin="round"/><path d="M145.5 45.5 C145.5 45.5 147.8 66.1 148.8 75.0 C149.9 86.2 151.9 101.2 152.5 112.5 C153.1 123.7 153.7 138.8 153.0 150.0 C152.4 159.8 150.7 172.9 148.8 182.5 C147.6 187.8 144.6 194.6 143.8 200.0 C142.7 206.5 142.0 215.5 143.0 222.0 C144.0 228.3 147.4 236.2 150.0 242.0 C153.2 249.0 156.9 259.2 162.5 264.5 C164.9 266.8 169.8 267.6 172.5 269.5 C176.7 272.5 180.3 279.2 185.0 281.5 C187.7 282.8 192.2 281.8 195.0 283.0 C198.8 284.6 202.1 290.2 206.0 291.5 C211.4 293.3 219.4 292.4 225.0 291.5 C231.5 290.5 239.4 285.0 246.0 285.0 C251.0 285.0 257.2 288.5 262.0 290.0 C268.9 292.1 279.0 293.1 285.0 297.0 C290.8 300.8 295.6 309.2 300.0 314.5 C304.9 320.4 310.6 329.0 316.0 334.5 C318.7 337.3 322.7 340.9 326.0 343.0 C330.2 345.6 337.2 346.4 341.0 349.5 C348.1 355.3 352.9 367.3 358.5 374.5 C362.7 380.0 369.8 386.2 373.5 392.0 C377.4 398.1 380.5 407.4 383.5 414.0 C387.2 422.2 392.1 433.3 396.0 441.5 C398.9 447.6 402.6 455.7 406.0 461.5 C408.7 466.2 411.8 473.0 416.0 476.5 C418.2 478.3 424.8 480.2 424.8 480.2 C424.8 480.2 429.4 476.2 431.0 474.0 C433.9 469.9 435.6 463.1 438.5 459.0 C440.4 456.3 443.1 452.5 446.0 451.0 C451.4 448.3 460.0 449.3 466.0 449.0 C475.0 448.6 487.0 448.1 496.0 449.0 C500.6 449.5 506.4 451.8 511.0 452.0 C514.0 452.1 518.3 452.4 521.0 451.0 C525.1 448.8 528.3 442.8 531.0 439.0 C536.1 431.9 541.8 421.7 546.0 414.0 C554.3 399.0 564.7 378.6 572.0 363.0 C575.2 356.1 578.5 346.3 582.0 339.5 C585.3 333.2 590.4 325.3 594.5 319.5 C599.4 312.5 607.7 304.4 612.0 297.0 C614.4 292.8 617.2 286.8 618.0 282.0 C619.7 271.6 617.0 257.5 615.8 247.0 C614.9 239.4 612.2 229.6 611.5 222.0 C610.0 206.5 610.1 185.6 610.0 170.0 C609.8 150.5 610.4 124.5 610.8 105.0 C611.0 87.1 612.0 45.5 612.0 45.5" fill="none" stroke="#000" stroke-width="1.25" stroke-dasharray="4.3 2.6" stroke-linejoin="round"/><path d="M161.8 45.5 C161.8 45.5 162.4 69.6 162.5 80.0 C162.6 95.0 162.1 115.0 162.0 130.0 C162.0 139.0 161.4 151.0 162.0 160.0 C162.6 169.1 164.1 181.1 166.0 190.0 C167.7 197.8 173.8 215.5 173.8 215.5 L183.8 206.0 C183.8 206.0 188.0 217.7 191.0 222.0 C194.1 226.4 199.3 231.6 203.8 234.5 C207.1 236.7 212.0 239.4 216.0 239.5 C225.5 239.8 236.5 230.0 246.0 229.5 C249.5 229.3 254.1 231.1 257.5 232.0 C265.9 234.2 277.9 235.8 285.0 240.8 C290.9 244.8 295.4 253.9 300.0 259.5 C304.7 265.3 310.9 273.1 316.0 278.5 C323.1 286.0 333.9 294.6 341.0 302.0 C346.5 307.7 353.4 315.9 358.5 322.0 C363.5 327.9 370.6 335.5 374.8 342.0 C379.8 349.8 384.7 361.1 388.5 369.5 C391.8 376.9 395.4 387.0 398.5 394.5 C400.3 399.0 401.1 406.3 404.8 409.5 C406.5 411.0 412.2 411.5 412.2 411.5 C412.2 411.5 415.3 409.4 416.0 408.0 C418.9 402.3 416.5 393.0 418.5 387.0 C419.5 384.1 423.5 378.0 423.5 378.0 C423.5 378.0 434.3 380.0 438.5 382.0 C444.3 384.8 450.0 392.1 456.0 394.5 C465.9 398.4 480.5 398.0 491.0 399.0 C499.2 399.8 510.5 402.8 518.5 400.8 C521.9 399.9 526.1 397.1 528.5 394.5 C533.8 388.9 537.4 378.8 541.0 372.0 C545.7 363.1 551.5 351.0 556.0 342.0 C560.8 332.3 566.8 319.0 572.0 309.5 C574.1 305.7 577.2 300.7 579.5 297.0 C582.3 292.5 587.6 287.1 589.0 282.0 C593.9 264.7 587.9 240.0 588.0 222.0 C588.1 206.4 589.0 185.6 589.5 170.0 C590.2 150.5 591.1 124.5 592.0 105.0 C592.8 87.1 595.0 45.5 595.0 45.5" fill="none" stroke="#000" stroke-width="1.25" stroke-dasharray="4.3 2.6" stroke-linejoin="round"/><path d="M185.0 45.5 C185.0 45.5 181.0 69.6 180.5 80.0 C180.0 91.2 181.3 106.3 182.0 117.5 C182.6 127.3 181.3 140.9 185.0 150.0 C186.8 154.5 192.1 158.7 195.0 162.5 C198.0 166.5 200.5 173.1 204.5 176.0 C208.4 178.9 215.2 179.9 220.0 181.0 C224.4 182.0 230.5 183.5 235.0 183.0 C242.1 182.3 250.4 175.8 257.5 175.0 C264.2 174.2 274.2 174.0 280.0 177.5 C284.6 180.3 285.9 188.9 290.0 192.5 C292.5 194.7 297.4 195.4 300.0 197.5 C306.0 202.4 311.7 211.5 316.0 218.0 C317.7 220.6 319.4 224.4 321.0 227.0 C323.8 231.6 327.6 237.8 331.0 242.0 C335.7 247.7 343.9 253.7 348.5 259.5 C353.2 265.4 356.5 275.6 362.0 280.8 C364.9 283.4 370.3 284.7 373.5 287.0 C376.3 288.9 378.7 293.6 382.0 294.5 C385.4 295.4 393.5 292.0 393.5 292.0 C393.5 292.0 395.4 279.6 397.0 274.5 C398.5 269.8 403.5 259.5 403.5 259.5 L416.0 260.8 C416.0 260.8 421.1 275.7 423.5 282.0 C427.0 291.2 436.0 312.5 436.0 312.5 C436.0 312.5 443.2 313.3 446.0 314.5 C452.7 317.3 460.1 323.8 466.0 328.0 C472.8 332.8 480.5 342.1 488.5 344.5 C491.7 345.5 496.7 345.5 499.8 344.0 C503.9 341.9 507.9 336.3 509.8 332.0 C513.9 322.3 512.4 307.5 513.5 297.0 C514.3 289.5 514.2 279.3 516.0 272.0 C517.0 268.1 518.9 263.0 521.0 259.5 C524.0 254.5 530.1 249.3 533.5 244.5 C538.1 238.1 543.1 228.8 547.2 222.0 C549.9 217.7 553.7 212.0 556.0 207.5 C558.6 202.4 562.0 195.5 563.5 190.0 C566.4 179.8 567.4 165.6 568.5 155.0 C570.2 137.8 569.9 114.7 572.0 97.5 C572.2 95.8 572.8 93.7 573.0 92.0 C574.8 78.1 576.5 45.5 576.5 45.5" fill="none" stroke="#000" stroke-width="1.25" stroke-dasharray="4.3 2.6" stroke-linejoin="round"/><path d="M216.8 45.5 C216.8 45.5 211.0 75.2 213.8 87.5 C215.3 94.2 220.9 102.0 225.0 107.5 C228.4 112.0 238.0 121.0 238.0 121.0 C238.0 121.0 251.4 113.8 257.5 114.5 C263.6 115.2 269.6 122.1 275.0 125.0 C280.1 127.8 287.3 131.0 292.5 133.8 C299.6 137.5 310.6 140.9 316.0 147.0 C322.5 154.4 323.4 169.0 328.5 177.5 C331.5 182.5 335.9 189.5 341.0 192.5 C343.9 194.2 349.3 192.5 352.0 194.5 C359.4 200.0 361.6 213.9 366.0 222.0 C367.1 224.1 370.0 229.0 370.0 229.0 L380.0 229.0 C380.0 229.0 381.6 224.1 382.0 222.0 C383.7 212.5 383.6 199.6 384.8 190.0 C385.6 182.5 385.4 171.9 388.5 165.0 C389.9 161.8 392.8 157.5 396.0 156.0 C398.4 154.9 402.4 154.9 404.8 156.0 C409.0 158.0 414.8 168.0 414.8 168.0 L425.5 158.0 C425.5 158.0 428.7 164.5 429.8 167.5 C431.8 173.3 432.6 181.7 434.8 187.5 C437.6 195.3 447.0 212.5 447.0 212.5 C447.0 212.5 454.5 209.7 457.0 207.5 C464.9 200.4 470.5 186.6 476.0 177.5 C479.9 171.1 483.3 161.3 488.5 156.0 C493.4 151.0 503.7 148.9 508.5 143.8 C513.5 138.4 519.8 122.0 519.8 122.0 L529.8 121.0 C529.8 121.0 542.4 92.7 546.0 80.0 C548.9 69.9 552.0 45.5 552.0 45.5" fill="none" stroke="#000" stroke-width="1.25" stroke-dasharray="4.3 2.6" stroke-linejoin="round"/><path d="M238.8 45.5 C238.8 45.5 246.4 51.8 250.0 54.0 C256.4 57.9 266.7 60.2 272.5 65.0 C275.2 67.3 279.5 74.5 279.5 74.5 L289.5 68.8 C289.5 68.8 304.9 75.2 310.0 80.0 C312.5 82.3 313.9 86.9 316.0 89.5 C320.2 94.7 332.0 105.0 332.0 105.0 L341.0 100.0 L352.0 106.0 C352.0 106.0 358.8 87.7 362.0 80.0 C365.2 72.3 373.5 54.5 373.5 54.5 C373.5 54.5 382.5 57.8 386.0 60.0 C392.0 63.7 404.0 75.0 404.0 75.0 L414.8 65.0 C414.8 65.0 422.3 69.7 426.0 70.0 C428.9 70.2 435.5 67.5 435.5 67.5 L447.0 79.5 C447.0 79.5 459.7 67.6 466.0 63.8 C468.8 62.1 473.6 61.7 476.0 59.5 C479.4 56.3 483.0 45.5 483.0 45.5" fill="none" stroke="#000" stroke-width="1.25" stroke-dasharray="4.3 2.6" stroke-linejoin="round"/></g>
<path d="M50.0 515.0 C50.0 515.0 65.0 525.6 71.2 530.2 C74.7 532.8 78.7 537.0 82.5 539.0 C87.4 541.6 95.8 541.0 100.0 544.5 C105.0 548.7 106.7 558.3 110.0 564.0 C113.1 569.4 117.2 576.8 121.2 581.5 C124.2 584.9 128.4 589.6 132.5 591.5 C134.9 592.6 138.8 591.8 141.2 592.8 C145.9 594.6 151.5 598.9 155.0 602.5 C158.3 606.0 161.8 611.6 163.8 616.0 C166.6 622.4 168.2 631.7 170.0 638.5 C171.5 644.1 174.2 651.5 175.0 657.2 C177.4 675.9 175.0 720.0 175.0 720.0 L50.0 720.0 Z" fill="#ffff00"/>
<path d="M50.0 566.0 C50.0 566.0 64.0 573.0 70.0 576.0 C75.2 578.6 82.0 582.6 87.5 584.8 C91.1 586.2 97.0 586.0 100.0 588.5 C105.1 592.8 106.5 602.8 110.0 608.5 C113.3 614.0 118.2 621.2 122.5 626.0 C125.2 629.0 129.1 632.7 132.5 634.8 C135.3 636.4 139.9 636.7 142.5 638.5 C145.8 640.8 148.8 645.3 151.2 648.5 C152.5 650.1 154.4 652.1 155.0 654.0 C161.0 672.9 156.0 720.0 156.0 720.0 L50.0 720.0 Z" fill="#ffdc00"/>
<path d="M62.0 660.0 C62.0 660.0 68.5 646.7 71.2 641.0 C74.1 635.2 80.5 621.5 80.5 621.5 C80.5 621.5 87.8 626.0 91.2 627.2 C93.8 628.2 97.8 627.7 100.0 629.2 C104.7 632.7 108.4 640.4 110.0 646.0 C116.2 667.3 112.0 720.0 112.0 720.0 L62.0 720.0 Z" fill="#ffbe00"/>
<path d="M258.8 720.0 C258.8 720.0 253.5 677.0 258.8 659.8 C260.3 654.6 268.8 644.8 268.8 644.8 C268.8 644.8 275.8 646.2 278.8 645.5 C282.4 644.7 289.5 639.2 289.5 639.2 C289.5 639.2 296.9 646.5 300.0 649.8 C303.1 652.9 308.3 656.4 310.0 660.5 C316.8 677.0 312.0 720.0 312.0 720.0 Z" fill="#ffff00"/>
<path d="M324.8 720.0 L324.8 662.2 C324.8 662.2 328.9 658.9 331.0 658.5 C333.6 658.0 337.3 658.7 339.8 659.8 C341.5 660.5 343.9 661.8 344.8 663.5 C352.4 678.6 345.0 720.0 345.0 720.0 Z" fill="#ffff00"/>
<path d="M566.0 720.0 C566.0 720.0 561.8 690.7 566.0 679.2 C567.0 676.7 570.3 674.4 572.0 672.2 C575.9 667.5 580.7 660.8 584.5 656.0 C588.2 651.4 593.1 645.4 597.0 641.0 C601.4 636.0 606.6 628.6 612.0 624.8 C618.0 620.4 627.7 617.6 634.5 614.8 C638.2 613.2 643.0 610.5 647.0 609.8 C652.5 608.7 660.7 607.3 665.8 609.8 C669.6 611.6 671.9 617.6 674.5 621.0 C678.3 625.9 682.4 633.2 687.0 637.2 C690.9 640.7 697.1 644.2 702.0 646.0 C706.3 647.5 712.7 647.1 717.0 648.5 C721.0 649.8 725.3 654.2 729.5 654.8 C735.5 655.6 744.1 653.8 749.5 651.0 C754.2 648.5 758.6 642.6 762.0 638.5 C764.9 635.0 769.6 630.4 770.8 626.0 C771.7 622.4 769.4 617.3 769.5 613.5 C769.6 610.1 771.5 602.2 771.5 602.2 C771.5 602.2 763.0 601.0 759.5 599.8 C755.5 598.4 750.7 595.5 747.0 593.5 C743.2 591.4 734.5 586.0 734.5 586.0 C734.5 586.0 734.3 579.0 734.0 576.0 C733.6 572.4 732.0 564.0 732.0 564.0 C732.0 564.0 728.2 564.9 727.0 566.0 C725.9 567.0 725.1 568.9 724.5 570.2 C722.5 574.6 719.5 585.2 719.5 585.2 C719.5 585.2 714.5 567.0 713.2 559.0 C712.2 552.3 711.4 543.3 711.5 536.5 C711.6 531.2 712.6 524.2 713.2 519.0 C714.2 512.2 715.5 503.2 717.0 496.5 C717.6 493.8 719.5 487.8 719.5 487.8 L729.5 500.2 C729.5 500.2 733.0 483.6 734.5 476.5 C736.0 469.0 737.3 458.8 739.5 451.5 C740.7 447.6 742.8 442.7 744.5 439.0 C746.6 434.4 749.2 428.2 752.0 424.0 C753.9 421.1 756.7 417.3 759.5 415.2 C760.9 414.2 763.2 413.0 765.0 413.0 C769.7 413.0 774.9 418.2 779.5 419.0 C781.7 419.4 784.9 419.3 787.0 418.5 C789.1 417.7 791.7 415.8 793.0 414.0 C796.6 409.0 798.0 400.5 799.2 394.5 C800.7 387.9 801.5 378.8 801.8 372.0 C802.0 366.0 800.7 358.0 801.0 352.0 C801.2 347.1 800.3 339.8 803.0 335.8 C804.9 332.9 813.0 330.0 813.0 330.0 C813.0 330.0 814.4 334.2 815.5 335.8 C817.6 338.8 822.6 341.2 824.2 344.5 C827.2 350.6 825.4 360.4 826.8 367.0 C827.6 371.2 830.9 376.4 831.0 380.8 C831.1 385.8 828.1 392.1 826.8 397.0 C825.3 402.1 822.5 408.7 821.8 414.0 C820.9 419.9 820.5 428.1 821.8 434.0 C822.0 435.2 823.5 437.8 823.5 437.8 C823.5 437.8 824.8 429.9 825.5 426.5 C826.1 423.5 828.0 416.5 828.0 416.5 L835.5 414.0 C835.5 414.0 836.6 403.1 839.2 399.5 C842.6 394.8 849.8 389.8 855.5 389.0 C861.7 388.1 870.7 391.0 875.5 395.0 C880.5 399.1 882.3 408.4 885.5 414.0 C887.6 417.8 890.8 422.7 893.0 426.5 C896.1 431.7 899.3 439.2 903.0 444.0 C905.3 447.0 909.1 450.2 911.8 452.8 C913.4 454.4 917.5 458.0 917.5 458.0 C917.5 458.0 923.2 454.1 924.2 451.5 C928.6 441.1 923.7 425.2 923.5 414.0 C923.4 407.4 922.9 398.6 923.0 392.0 C923.1 386.0 923.3 377.9 924.2 372.0 C924.9 367.8 925.9 361.9 928.0 358.2 C929.3 356.0 932.8 354.2 934.2 352.0 C936.5 348.6 939.2 339.5 939.2 339.5 C939.2 339.5 945.7 338.0 948.5 337.5 C956.4 336.1 975.0 334.0 975.0 334.0 L975.0 720.0 Z" fill="#ffff00"/>
<path d="M811.8 452.0 L813.5 449.0 C813.5 449.0 815.1 453.8 815.2 456.0 C815.3 458.4 813.7 464.0 813.7 464.0 L811.8 458.0 Z" fill="#ffffff"/>
<path d="M975.0 380.0 C975.0 380.0 954.8 415.3 948.5 431.5 C946.2 437.4 944.6 445.8 943.0 452.0 C941.8 456.7 940.1 463.0 939.2 467.8 C938.7 470.7 938.0 477.8 938.0 477.8 L929.2 478.5 C929.2 478.5 927.2 491.1 926.8 496.5 C926.2 503.2 926.4 512.3 926.0 519.0 C925.6 525.0 924.5 533.0 924.2 539.0 C924.1 543.5 924.0 549.5 924.2 554.0 C924.4 555.8 924.8 558.2 925.0 560.0 C925.5 565.8 925.5 573.7 926.0 579.5 C926.4 584.2 927.3 590.5 928.0 595.2 C928.5 598.7 928.6 603.6 930.0 606.9 C931.1 609.6 934.3 612.2 935.8 614.7 C937.5 617.5 938.4 622.2 940.7 624.5 C942.5 626.3 946.0 627.5 948.5 628.4 C956.2 631.1 975.0 634.0 975.0 634.0 Z" fill="#ffffff"/>
<path d="M975.0 505.0 C975.0 505.0 955.9 531.9 948.5 544.0 C946.7 546.9 944.1 550.8 943.0 554.0 C941.5 558.3 940.8 564.4 940.5 569.0 C940.0 576.9 940.6 587.4 941.6 595.2 C942.1 599.3 943.2 604.9 944.6 608.8 C945.5 611.3 946.9 614.5 948.5 616.6 C955.0 625.0 975.0 640.0 975.0 640.0 Z" fill="#ffff00"/>
<path d="M777.0 720.0 C777.0 720.0 773.8 673.2 777.0 653.5 C777.8 648.8 780.8 643.1 782.0 638.5 C784.0 631.1 785.8 621.0 787.0 613.5 C788.0 607.5 791.5 599.2 789.5 593.5 C788.8 591.5 786.5 589.2 784.5 588.5 C781.0 587.2 775.7 590.0 772.0 589.5 C767.3 588.9 757.0 584.0 757.0 584.0 C757.0 584.0 755.0 569.4 752.0 564.0 C749.9 560.3 743.8 557.8 742.0 554.0 C740.1 549.9 741.0 543.5 740.8 539.0 C740.4 533.0 738.9 524.9 740.0 519.0 C740.6 515.8 743.3 512.1 744.5 509.0 C747.1 502.4 748.3 492.6 752.0 486.5 C754.2 482.9 758.2 478.4 762.0 476.5 C764.7 475.2 772.0 475.2 772.0 475.2 C772.0 475.2 780.3 484.5 783.0 489.0 C786.8 495.3 789.8 504.8 793.0 511.5 C795.7 517.2 802.5 530.2 802.5 530.2 C802.5 530.2 810.3 517.4 813.0 511.5 C816.7 503.5 819.5 492.1 823.0 484.0 C826.0 477.1 829.4 467.3 834.2 461.5 C838.2 456.8 845.6 452.7 850.5 449.0 C855.0 445.6 865.5 437.8 865.5 437.8 C865.5 437.8 874.1 439.2 876.8 441.5 C881.2 445.3 883.0 453.7 885.5 459.0 C888.7 465.7 892.8 474.6 895.5 481.5 C898.4 488.9 902.2 498.8 904.2 506.5 C906.4 514.6 908.2 525.7 909.2 534.0 C910.3 541.8 910.4 552.2 911.4 560.0 C911.8 563.5 912.7 568.2 913.3 571.7 C914.6 578.8 916.8 588.1 918.2 595.2 C920.1 605.1 922.5 618.4 924.0 628.4 C925.4 637.7 927.4 650.2 928.0 659.6 C929.2 677.7 928.0 720.0 928.0 720.0 Z" fill="#ffdc00"/>
<path d="M600.8 720.0 L600.8 673.5 C600.8 673.5 609.2 667.6 613.2 666.0 C617.2 664.4 622.8 663.2 627.0 663.0 C629.6 662.9 635.8 664.0 635.8 664.0 C635.8 664.0 637.9 668.4 638.2 670.5 C641.1 685.1 639.0 720.0 639.0 720.0 Z" fill="#ffdc00"/>
<path d="M788.3 720.0 C788.3 720.0 786.4 673.5 788.3 653.8 C789.0 646.0 791.8 636.0 793.2 628.4 C794.8 619.6 796.7 607.8 798.1 599.0 C799.0 593.2 799.3 585.2 801.0 579.5 C803.4 571.4 809.6 561.8 813.0 554.0 C816.2 546.6 819.8 536.4 823.0 529.0 C826.2 521.8 828.8 511.0 834.2 505.2 C837.5 501.8 844.2 500.5 848.0 497.8 C851.7 495.2 855.6 490.5 859.2 487.8 C861.2 486.3 863.6 483.8 866.0 483.5 C869.0 483.1 873.2 484.6 875.5 486.5 C879.6 489.8 882.0 496.8 884.2 501.5 C887.4 508.0 890.6 517.2 893.0 524.0 C895.5 531.4 898.5 541.4 900.5 549.0 C902.7 557.2 905.3 568.2 906.8 576.5 C908.3 585.3 909.0 597.2 910.5 606.0 C911.2 609.8 912.7 614.8 913.3 618.6 C915.0 630.2 915.8 645.9 916.2 657.7 C917.0 676.4 916.5 720.0 916.5 720.0 Z" fill="#ffbe00"/>
<path d="M771.8 529.5 C771.8 529.5 778.5 537.5 780.5 541.5 C782.2 545.0 783.1 550.2 784.2 554.0 C785.0 556.6 787.2 560.1 786.8 562.8 C786.3 565.4 781.8 570.2 781.8 570.2 C781.8 570.2 774.9 564.7 773.0 561.5 C771.0 558.1 769.8 552.9 769.2 549.0 C768.6 544.5 769.2 534.0 769.2 534.0 Z" fill="#ffbe00"/>
<path d="M796.1 720.0 C796.1 720.0 794.3 672.2 796.1 651.8 C797.0 641.7 798.6 628.1 802.0 618.6 C804.2 612.3 809.5 604.9 812.7 599.0 C815.1 594.5 818.4 588.6 820.5 584.0 C825.2 573.7 826.4 557.1 834.2 549.0 C836.2 546.9 840.6 546.9 843.0 545.2 C847.4 542.3 851.3 535.9 855.5 532.8 C858.2 530.7 865.5 527.2 865.5 527.2 C865.5 527.2 873.2 530.3 875.5 532.8 C880.3 537.9 882.8 547.5 885.5 554.0 C888.0 559.9 890.9 567.9 893.0 574.0 C895.0 579.9 897.4 588.0 899.2 594.0 C900.4 597.6 901.9 602.4 903.0 606.0 C904.1 609.8 905.8 614.7 906.5 618.6 C908.5 629.9 909.0 645.2 909.4 656.7 C910.1 675.7 909.5 720.0 909.5 720.0 Z" fill="#ffa000"/>
<path d="M805.9 720.0 C805.9 720.0 798.0 670.0 805.9 650.8 C807.3 647.4 812.7 645.2 814.7 642.0 C818.6 635.7 820.1 625.6 822.5 618.6 C823.8 614.8 825.2 609.7 826.8 606.0 C828.7 601.5 830.4 594.5 834.2 591.5 C837.0 589.4 842.5 590.8 845.5 589.0 C849.4 586.7 852.0 580.6 855.5 577.8 C858.2 575.6 865.5 572.2 865.5 572.2 C865.5 572.2 872.8 580.3 875.5 584.0 C878.9 588.6 883.0 595.1 885.5 600.2 C888.3 606.1 891.0 614.3 892.8 620.5 C894.7 626.8 896.7 635.5 897.7 642.0 C898.4 646.1 898.8 651.6 899.0 655.7 C899.9 675.0 899.0 720.0 899.0 720.0 Z" fill="#ff8c00"/>
<path d="M824.5 720.0 C824.5 720.0 819.3 670.9 824.5 650.8 C826.0 645.0 834.2 633.2 834.2 633.2 C834.2 633.2 841.4 633.7 844.0 632.3 C848.8 629.8 851.1 621.4 855.7 618.6 C858.3 617.0 865.5 616.2 865.5 616.2 C865.5 616.2 871.2 624.6 873.3 628.4 C875.2 631.8 877.7 636.4 879.1 640.1 C880.6 644.1 882.4 649.5 883.0 653.8 C885.8 673.4 883.0 720.0 883.0 720.0 Z" fill="#ff6e00"/>
<g mask="url(#lm)" fill="none" stroke="#000" stroke-width="1.15" stroke-linejoin="round">
<path d="M50.0 515.0 C50.0 515.0 65.0 525.6 71.2 530.2 C74.7 532.8 78.7 537.0 82.5 539.0 C87.4 541.6 95.8 541.0 100.0 544.5 C105.0 548.7 106.7 558.3 110.0 564.0 C113.1 569.4 117.2 576.8 121.2 581.5 C124.2 584.9 128.4 589.6 132.5 591.5 C134.9 592.6 138.8 591.8 141.2 592.8 C145.9 594.6 151.5 598.9 155.0 602.5 C158.3 606.0 161.8 611.6 163.8 616.0 C166.6 622.4 168.2 631.7 170.0 638.5 C171.5 644.1 174.2 651.5 175.0 657.2 C177.4 675.9 175.0 720.0 175.0 720.0 L50.0 720.0 Z"/>
<path d="M50.0 566.0 C50.0 566.0 64.0 573.0 70.0 576.0 C75.2 578.6 82.0 582.6 87.5 584.8 C91.1 586.2 97.0 586.0 100.0 588.5 C105.1 592.8 106.5 602.8 110.0 608.5 C113.3 614.0 118.2 621.2 122.5 626.0 C125.2 629.0 129.1 632.7 132.5 634.8 C135.3 636.4 139.9 636.7 142.5 638.5 C145.8 640.8 148.8 645.3 151.2 648.5 C152.5 650.1 154.4 652.1 155.0 654.0 C161.0 672.9 156.0 720.0 156.0 720.0 L50.0 720.0 Z"/>
<path d="M62.0 660.0 C62.0 660.0 68.5 646.7 71.2 641.0 C74.1 635.2 80.5 621.5 80.5 621.5 C80.5 621.5 87.8 626.0 91.2 627.2 C93.8 628.2 97.8 627.7 100.0 629.2 C104.7 632.7 108.4 640.4 110.0 646.0 C116.2 667.3 112.0 720.0 112.0 720.0 L62.0 720.0 Z"/>
<path d="M258.8 720.0 C258.8 720.0 253.5 677.0 258.8 659.8 C260.3 654.6 268.8 644.8 268.8 644.8 C268.8 644.8 275.8 646.2 278.8 645.5 C282.4 644.7 289.5 639.2 289.5 639.2 C289.5 639.2 296.9 646.5 300.0 649.8 C303.1 652.9 308.3 656.4 310.0 660.5 C316.8 677.0 312.0 720.0 312.0 720.0 Z"/>
<path d="M324.8 720.0 L324.8 662.2 C324.8 662.2 328.9 658.9 331.0 658.5 C333.6 658.0 337.3 658.7 339.8 659.8 C341.5 660.5 343.9 661.8 344.8 663.5 C352.4 678.6 345.0 720.0 345.0 720.0 Z"/>
<path d="M566.0 720.0 C566.0 720.0 561.8 690.7 566.0 679.2 C567.0 676.7 570.3 674.4 572.0 672.2 C575.9 667.5 580.7 660.8 584.5 656.0 C588.2 651.4 593.1 645.4 597.0 641.0 C601.4 636.0 606.6 628.6 612.0 624.8 C618.0 620.4 627.7 617.6 634.5 614.8 C638.2 613.2 643.0 610.5 647.0 609.8 C652.5 608.7 660.7 607.3 665.8 609.8 C669.6 611.6 671.9 617.6 674.5 621.0 C678.3 625.9 682.4 633.2 687.0 637.2 C690.9 640.7 697.1 644.2 702.0 646.0 C706.3 647.5 712.7 647.1 717.0 648.5 C721.0 649.8 725.3 654.2 729.5 654.8 C735.5 655.6 744.1 653.8 749.5 651.0 C754.2 648.5 758.6 642.6 762.0 638.5 C764.9 635.0 769.6 630.4 770.8 626.0 C771.7 622.4 769.4 617.3 769.5 613.5 C769.6 610.1 771.5 602.2 771.5 602.2 C771.5 602.2 763.0 601.0 759.5 599.8 C755.5 598.4 750.7 595.5 747.0 593.5 C743.2 591.4 734.5 586.0 734.5 586.0 C734.5 586.0 734.3 579.0 734.0 576.0 C733.6 572.4 732.0 564.0 732.0 564.0 C732.0 564.0 728.2 564.9 727.0 566.0 C725.9 567.0 725.1 568.9 724.5 570.2 C722.5 574.6 719.5 585.2 719.5 585.2 C719.5 585.2 714.5 567.0 713.2 559.0 C712.2 552.3 711.4 543.3 711.5 536.5 C711.6 531.2 712.6 524.2 713.2 519.0 C714.2 512.2 715.5 503.2 717.0 496.5 C717.6 493.8 719.5 487.8 719.5 487.8 L729.5 500.2 C729.5 500.2 733.0 483.6 734.5 476.5 C736.0 469.0 737.3 458.8 739.5 451.5 C740.7 447.6 742.8 442.7 744.5 439.0 C746.6 434.4 749.2 428.2 752.0 424.0 C753.9 421.1 756.7 417.3 759.5 415.2 C760.9 414.2 763.2 413.0 765.0 413.0 C769.7 413.0 774.9 418.2 779.5 419.0 C781.7 419.4 784.9 419.3 787.0 418.5 C789.1 417.7 791.7 415.8 793.0 414.0 C796.6 409.0 798.0 400.5 799.2 394.5 C800.7 387.9 801.5 378.8 801.8 372.0 C802.0 366.0 800.7 358.0 801.0 352.0 C801.2 347.1 800.3 339.8 803.0 335.8 C804.9 332.9 813.0 330.0 813.0 330.0 C813.0 330.0 814.4 334.2 815.5 335.8 C817.6 338.8 822.6 341.2 824.2 344.5 C827.2 350.6 825.4 360.4 826.8 367.0 C827.6 371.2 830.9 376.4 831.0 380.8 C831.1 385.8 828.1 392.1 826.8 397.0 C825.3 402.1 822.5 408.7 821.8 414.0 C820.9 419.9 820.5 428.1 821.8 434.0 C822.0 435.2 823.5 437.8 823.5 437.8 C823.5 437.8 824.8 429.9 825.5 426.5 C826.1 423.5 828.0 416.5 828.0 416.5 L835.5 414.0 C835.5 414.0 836.6 403.1 839.2 399.5 C842.6 394.8 849.8 389.8 855.5 389.0 C861.7 388.1 870.7 391.0 875.5 395.0 C880.5 399.1 882.3 408.4 885.5 414.0 C887.6 417.8 890.8 422.7 893.0 426.5 C896.1 431.7 899.3 439.2 903.0 444.0 C905.3 447.0 909.1 450.2 911.8 452.8 C913.4 454.4 917.5 458.0 917.5 458.0 C917.5 458.0 923.2 454.1 924.2 451.5 C928.6 441.1 923.7 425.2 923.5 414.0 C923.4 407.4 922.9 398.6 923.0 392.0 C923.1 386.0 923.3 377.9 924.2 372.0 C924.9 367.8 925.9 361.9 928.0 358.2 C929.3 356.0 932.8 354.2 934.2 352.0 C936.5 348.6 939.2 339.5 939.2 339.5 C939.2 339.5 945.7 338.0 948.5 337.5 C956.4 336.1 975.0 334.0 975.0 334.0 L975.0 720.0 Z"/>
<path d="M811.8 452.0 L813.5 449.0 C813.5 449.0 815.1 453.8 815.2 456.0 C815.3 458.4 813.7 464.0 813.7 464.0 L811.8 458.0 Z"/>
<path d="M975.0 380.0 C975.0 380.0 954.8 415.3 948.5 431.5 C946.2 437.4 944.6 445.8 943.0 452.0 C941.8 456.7 940.1 463.0 939.2 467.8 C938.7 470.7 938.0 477.8 938.0 477.8 L929.2 478.5 C929.2 478.5 927.2 491.1 926.8 496.5 C926.2 503.2 926.4 512.3 926.0 519.0 C925.6 525.0 924.5 533.0 924.2 539.0 C924.1 543.5 924.0 549.5 924.2 554.0 C924.4 555.8 924.8 558.2 925.0 560.0 C925.5 565.8 925.5 573.7 926.0 579.5 C926.4 584.2 927.3 590.5 928.0 595.2 C928.5 598.7 928.6 603.6 930.0 606.9 C931.1 609.6 934.3 612.2 935.8 614.7 C937.5 617.5 938.4 622.2 940.7 624.5 C942.5 626.3 946.0 627.5 948.5 628.4 C956.2 631.1 975.0 634.0 975.0 634.0 Z"/>
<path d="M975.0 505.0 C975.0 505.0 955.9 531.9 948.5 544.0 C946.7 546.9 944.1 550.8 943.0 554.0 C941.5 558.3 940.8 564.4 940.5 569.0 C940.0 576.9 940.6 587.4 941.6 595.2 C942.1 599.3 943.2 604.9 944.6 608.8 C945.5 611.3 946.9 614.5 948.5 616.6 C955.0 625.0 975.0 640.0 975.0 640.0 Z"/>
<path d="M777.0 720.0 C777.0 720.0 773.8 673.2 777.0 653.5 C777.8 648.8 780.8 643.1 782.0 638.5 C784.0 631.1 785.8 621.0 787.0 613.5 C788.0 607.5 791.5 599.2 789.5 593.5 C788.8 591.5 786.5 589.2 784.5 588.5 C781.0 587.2 775.7 590.0 772.0 589.5 C767.3 588.9 757.0 584.0 757.0 584.0 C757.0 584.0 755.0 569.4 752.0 564.0 C749.9 560.3 743.8 557.8 742.0 554.0 C740.1 549.9 741.0 543.5 740.8 539.0 C740.4 533.0 738.9 524.9 740.0 519.0 C740.6 515.8 743.3 512.1 744.5 509.0 C747.1 502.4 748.3 492.6 752.0 486.5 C754.2 482.9 758.2 478.4 762.0 476.5 C764.7 475.2 772.0 475.2 772.0 475.2 C772.0 475.2 780.3 484.5 783.0 489.0 C786.8 495.3 789.8 504.8 793.0 511.5 C795.7 517.2 802.5 530.2 802.5 530.2 C802.5 530.2 810.3 517.4 813.0 511.5 C816.7 503.5 819.5 492.1 823.0 484.0 C826.0 477.1 829.4 467.3 834.2 461.5 C838.2 456.8 845.6 452.7 850.5 449.0 C855.0 445.6 865.5 437.8 865.5 437.8 C865.5 437.8 874.1 439.2 876.8 441.5 C881.2 445.3 883.0 453.7 885.5 459.0 C888.7 465.7 892.8 474.6 895.5 481.5 C898.4 488.9 902.2 498.8 904.2 506.5 C906.4 514.6 908.2 525.7 909.2 534.0 C910.3 541.8 910.4 552.2 911.4 560.0 C911.8 563.5 912.7 568.2 913.3 571.7 C914.6 578.8 916.8 588.1 918.2 595.2 C920.1 605.1 922.5 618.4 924.0 628.4 C925.4 637.7 927.4 650.2 928.0 659.6 C929.2 677.7 928.0 720.0 928.0 720.0 Z"/>
<path d="M600.8 720.0 L600.8 673.5 C600.8 673.5 609.2 667.6 613.2 666.0 C617.2 664.4 622.8 663.2 627.0 663.0 C629.6 662.9 635.8 664.0 635.8 664.0 C635.8 664.0 637.9 668.4 638.2 670.5 C641.1 685.1 639.0 720.0 639.0 720.0 Z"/>
<path d="M788.3 720.0 C788.3 720.0 786.4 673.5 788.3 653.8 C789.0 646.0 791.8 636.0 793.2 628.4 C794.8 619.6 796.7 607.8 798.1 599.0 C799.0 593.2 799.3 585.2 801.0 579.5 C803.4 571.4 809.6 561.8 813.0 554.0 C816.2 546.6 819.8 536.4 823.0 529.0 C826.2 521.8 828.8 511.0 834.2 505.2 C837.5 501.8 844.2 500.5 848.0 497.8 C851.7 495.2 855.6 490.5 859.2 487.8 C861.2 486.3 863.6 483.8 866.0 483.5 C869.0 483.1 873.2 484.6 875.5 486.5 C879.6 489.8 882.0 496.8 884.2 501.5 C887.4 508.0 890.6 517.2 893.0 524.0 C895.5 531.4 898.5 541.4 900.5 549.0 C902.7 557.2 905.3 568.2 906.8 576.5 C908.3 585.3 909.0 597.2 910.5 606.0 C911.2 609.8 912.7 614.8 913.3 618.6 C915.0 630.2 915.8 645.9 916.2 657.7 C917.0 676.4 916.5 720.0 916.5 720.0 Z"/>
<path d="M771.8 529.5 C771.8 529.5 778.5 537.5 780.5 541.5 C782.2 545.0 783.1 550.2 784.2 554.0 C785.0 556.6 787.2 560.1 786.8 562.8 C786.3 565.4 781.8 570.2 781.8 570.2 C781.8 570.2 774.9 564.7 773.0 561.5 C771.0 558.1 769.8 552.9 769.2 549.0 C768.6 544.5 769.2 534.0 769.2 534.0 Z"/>
<path d="M796.1 720.0 C796.1 720.0 794.3 672.2 796.1 651.8 C797.0 641.7 798.6 628.1 802.0 618.6 C804.2 612.3 809.5 604.9 812.7 599.0 C815.1 594.5 818.4 588.6 820.5 584.0 C825.2 573.7 826.4 557.1 834.2 549.0 C836.2 546.9 840.6 546.9 843.0 545.2 C847.4 542.3 851.3 535.9 855.5 532.8 C858.2 530.7 865.5 527.2 865.5 527.2 C865.5 527.2 873.2 530.3 875.5 532.8 C880.3 537.9 882.8 547.5 885.5 554.0 C888.0 559.9 890.9 567.9 893.0 574.0 C895.0 579.9 897.4 588.0 899.2 594.0 C900.4 597.6 901.9 602.4 903.0 606.0 C904.1 609.8 905.8 614.7 906.5 618.6 C908.5 629.9 909.0 645.2 909.4 656.7 C910.1 675.7 909.5 720.0 909.5 720.0 Z"/>
<path d="M805.9 720.0 C805.9 720.0 798.0 670.0 805.9 650.8 C807.3 647.4 812.7 645.2 814.7 642.0 C818.6 635.7 820.1 625.6 822.5 618.6 C823.8 614.8 825.2 609.7 826.8 606.0 C828.7 601.5 830.4 594.5 834.2 591.5 C837.0 589.4 842.5 590.8 845.5 589.0 C849.4 586.7 852.0 580.6 855.5 577.8 C858.2 575.6 865.5 572.2 865.5 572.2 C865.5 572.2 872.8 580.3 875.5 584.0 C878.9 588.6 883.0 595.1 885.5 600.2 C888.3 606.1 891.0 614.3 892.8 620.5 C894.7 626.8 896.7 635.5 897.7 642.0 C898.4 646.1 898.8 651.6 899.0 655.7 C899.9 675.0 899.0 720.0 899.0 720.0 Z"/>
<path d="M824.5 720.0 C824.5 720.0 819.3 670.9 824.5 650.8 C826.0 645.0 834.2 633.2 834.2 633.2 C834.2 633.2 841.4 633.7 844.0 632.3 C848.8 629.8 851.1 621.4 855.7 618.6 C858.3 617.0 865.5 616.2 865.5 616.2 C865.5 616.2 871.2 624.6 873.3 628.4 C875.2 631.8 877.7 636.4 879.1 640.1 C880.6 644.1 882.4 649.5 883.0 653.8 C885.8 673.4 883.0 720.0 883.0 720.0 Z"/>
</g>
<g mask="url(#lm)" fill="none" stroke="#cf0078" stroke-width="1.45" stroke-linejoin="round">
<path d="M64.0 468.0 C64.0 468.0 68.9 476.7 71.2 480.2 C73.7 484.1 76.4 489.9 80.0 492.8 C85.1 496.7 95.2 496.0 100.0 500.2 C106.0 505.6 108.1 517.3 112.5 524.0 C115.1 528.0 119.3 532.9 122.5 536.5 C125.3 539.7 128.7 544.5 132.5 546.5 C135.2 547.9 139.7 546.9 142.5 548.2 C147.0 550.4 151.5 555.5 155.0 559.0 C157.8 561.8 161.8 565.5 163.8 569.0 C166.8 574.5 168.3 583.0 170.0 589.0 C171.5 594.1 173.1 600.9 174.5 606.0 C177.5 616.9 179.7 632.3 185.0 642.2 C186.4 644.8 189.8 647.2 191.2 649.8 C192.8 652.6 194.5 660.0 194.5 660.0"/>
<path d="M66.0 208.0 C66.0 208.0 70.4 217.9 72.5 222.0 C74.9 226.6 79.0 232.2 81.0 237.0 C83.1 242.0 85.2 249.1 86.0 254.5 C87.4 263.4 86.8 275.5 87.0 284.5 C87.1 289.7 87.4 296.8 87.0 302.0 C86.5 308.1 84.6 316.0 83.8 322.0 C82.8 328.7 82.7 337.9 81.0 344.5 C79.8 349.2 76.3 354.8 75.0 359.5 C73.6 364.6 72.6 371.7 72.0 377.0 C71.1 384.5 71.2 394.5 70.5 402.0 C70.2 405.9 69.0 415.0 69.0 415.0"/>
<path d="M228.0 662.0 C228.0 662.0 226.2 658.4 225.0 657.2 C222.5 654.8 215.0 651.0 215.0 651.0 C215.0 651.0 216.5 637.0 217.5 631.0 C218.7 623.5 219.6 613.1 222.5 606.0 C224.1 602.3 227.3 597.8 230.0 594.8 C232.1 592.4 238.0 587.8 238.0 587.8 C238.0 587.8 245.0 588.9 247.5 590.5 C251.8 593.2 258.8 603.0 258.8 603.0 C258.8 603.0 268.4 601.3 272.5 600.5 C277.4 599.6 283.9 596.1 288.8 597.2 C292.9 598.2 297.1 602.9 300.0 606.0 C303.7 610.0 306.1 617.2 310.0 621.0 C311.5 622.5 314.1 623.7 316.0 624.8 C317.5 625.6 321.0 627.2 321.0 627.2 L331.5 621.0 C331.5 621.0 339.4 623.9 342.2 626.0 C346.3 629.0 350.3 634.6 353.5 638.5 C357.5 643.5 362.1 650.9 366.0 656.0 C368.9 659.7 373.4 664.1 376.0 668.0 C376.7 669.1 378.0 672.0 378.0 672.0"/>
<path d="M543.0 684.0 C543.0 684.0 544.2 681.5 544.8 680.5 C548.1 673.9 552.5 665.0 556.0 658.5 C558.9 653.2 562.8 646.1 566.0 641.0 C567.7 638.3 570.2 634.9 572.0 632.2 C575.8 626.6 580.7 619.1 584.5 613.5 C588.2 608.2 592.9 601.0 597.0 596.0 C601.8 590.2 608.5 582.4 614.5 577.8 C619.9 573.5 628.2 569.4 634.5 566.5 C641.0 563.5 649.9 559.0 657.0 558.5 C659.7 558.3 663.3 559.3 665.8 560.2 C669.0 561.6 672.8 564.5 675.8 566.5 C677.3 567.6 679.2 569.1 680.8 570.2 C682.8 571.8 687.5 575.2 687.5 575.2 C687.5 575.2 688.3 565.6 688.2 561.5 C688.2 554.7 686.7 545.8 686.5 539.0 C686.3 532.6 685.5 524.0 687.0 517.8 C688.6 510.9 694.6 503.1 697.0 496.5 C699.1 490.7 700.5 482.5 702.0 476.5 C704.1 467.9 706.2 456.2 709.0 447.8 C710.9 442.1 717.0 429.5 717.0 429.5 C717.0 429.5 720.9 430.4 722.0 431.5 C726.3 435.8 729.5 450.2 729.5 450.2 C729.5 450.2 731.3 440.6 732.0 436.5 C733.2 429.8 734.3 420.7 735.8 414.0 C737.3 407.3 739.8 398.5 742.0 392.0 C744.3 385.5 745.5 375.3 750.8 370.8 C753.1 368.7 758.3 370.1 760.8 368.2 C765.1 364.9 766.3 356.5 769.5 352.0 C772.4 347.9 778.1 343.9 780.5 339.5 C785.3 330.6 786.7 316.8 789.2 307.0 C790.8 301.0 792.4 292.8 794.5 287.0 C796.6 281.2 798.9 272.9 803.0 268.2 C805.3 265.6 813.0 262.0 813.0 262.0 L823.5 293.2 L834.2 268.2 C834.2 268.2 839.3 283.0 840.5 289.5 C842.3 299.1 842.2 312.3 843.0 322.0 C843.6 329.5 845.0 347.0 845.0 347.0 C845.0 347.0 846.1 336.2 848.0 332.0 C849.5 328.7 855.5 322.5 855.5 322.5 C855.5 322.5 860.3 324.2 861.8 325.8 C864.1 328.4 866.0 337.0 866.0 337.0 C866.0 337.0 866.5 331.3 868.0 329.5 C870.1 327.0 874.8 325.6 878.0 325.0 C880.6 324.6 886.8 325.8 886.8 325.8 C886.8 325.8 891.7 333.4 893.0 337.0 C895.2 343.1 897.2 358.2 897.2 358.2 C897.2 358.2 901.4 354.3 902.2 352.0 C905.9 342.1 903.0 327.5 903.5 317.0 C904.0 308.0 904.0 295.9 905.5 287.0 C906.0 284.3 906.6 280.6 908.0 278.2 C910.3 274.5 916.9 272.3 918.8 268.2 C921.4 262.4 919.0 253.4 919.2 247.0 C919.5 239.5 919.7 229.5 920.5 222.0 C920.7 219.9 920.8 216.9 921.8 215.0 C923.0 212.6 928.0 208.8 928.0 208.8 L938.0 213.8 C938.0 213.8 945.3 209.3 948.5 207.5 C950.4 206.4 955.0 204.0 955.0 204.0"/>
</g>
<g font-family="Liberation Sans, sans-serif" font-size="14" fill="#000" stroke="#000" stroke-width="0.12">
<text x="245.5" y="58.2" textLength="26.0" lengthAdjust="spacingAndGlyphs">−20</text>
<text x="267.0" y="237.0" textLength="26.0" lengthAdjust="spacingAndGlyphs">−14</text>
<text x="360.5" y="234.0" textLength="26.0" lengthAdjust="spacingAndGlyphs">−18</text>
<text x="256.5" y="296.5" textLength="26.0" lengthAdjust="spacingAndGlyphs">−12</text>
<text x="371.0" y="303.0" textLength="26.0" lengthAdjust="spacingAndGlyphs">−16</text>
<text x="413.0" y="383.0" textLength="26.0" lengthAdjust="spacingAndGlyphs">−14</text>
<text x="219.0" y="399.0" textLength="18.0" lengthAdjust="spacingAndGlyphs">−8</text>
<text x="239.8" y="441.5" textLength="18.0" lengthAdjust="spacingAndGlyphs">−6</text>
<text x="466.8" y="454.5" textLength="26.0" lengthAdjust="spacingAndGlyphs">−12</text>
<text x="281.0" y="557.8" textLength="18.0" lengthAdjust="spacingAndGlyphs">−2</text>
<text x="418.2" y="631.0" textLength="18.0" lengthAdjust="spacingAndGlyphs">−6</text>
<text x="658.0" y="520.0" textLength="18.0" lengthAdjust="spacingAndGlyphs">−2</text>
<text x="731.8" y="273.2" textLength="18.0" lengthAdjust="spacingAndGlyphs">−4</text>
<text x="804.5" y="220.5" textLength="18.0" lengthAdjust="spacingAndGlyphs">−2</text>
<text x="857.0" y="197.0" textLength="18.0" lengthAdjust="spacingAndGlyphs">−2</text>
<text x="715.1" y="428.5" textLength="7.8" lengthAdjust="spacingAndGlyphs">0</text>
<text x="767.6" y="421.0" textLength="7.8" lengthAdjust="spacingAndGlyphs">2</text>
<text x="725.1" y="570.2" textLength="7.8" lengthAdjust="spacingAndGlyphs">2</text>
<text x="913.6" y="464.8" textLength="7.8" lengthAdjust="spacingAndGlyphs">2</text>
<text x="862.1" y="488.5" textLength="7.8" lengthAdjust="spacingAndGlyphs">6</text>
</g>
<path d="M60.0 643.0 C60.0 643.0 67.0 643.0 70.0 643.0 C74.5 643.1 80.6 642.7 85.0 643.5 C86.9 643.8 89.3 645.2 91.2 645.5 C96.8 646.4 104.4 645.4 110.0 646.0 C113.8 646.4 118.8 647.8 122.5 648.5 C125.5 649.1 129.5 649.7 132.5 650.5 C135.6 651.3 139.4 653.4 142.5 654.0 C146.2 654.7 151.3 654.3 155.0 654.8 C157.7 655.1 161.1 656.2 163.8 656.5 C173.1 657.5 185.7 656.0 195.0 657.2 C198.1 657.7 201.9 659.8 205.0 659.8 C208.1 659.8 211.9 657.7 215.0 657.2 C222.4 656.3 232.6 655.4 240.0 656.8 C242.4 657.2 245.1 659.3 247.5 659.8 C265.9 663.4 291.5 657.7 310.0 660.5 C311.9 660.8 314.1 662.0 316.0 662.2 C319.0 662.7 323.0 662.2 326.0 662.2 C332.0 662.4 340.0 663.0 346.0 663.5 C352.0 664.0 360.1 664.5 366.0 665.5 C369.0 666.0 373.0 667.5 376.0 668.0 C379.0 668.5 383.0 668.5 386.0 669.0 C388.3 669.4 391.2 670.6 393.5 671.0 C398.7 671.9 405.8 671.8 411.0 672.2 C416.3 672.7 423.3 673.4 428.5 674.0 C433.8 674.6 440.7 675.7 446.0 676.0 C459.5 676.8 477.6 675.1 491.0 676.5 C494.0 676.8 498.0 678.1 501.0 678.5 C506.2 679.1 513.3 678.6 518.5 679.2 C521.5 679.7 525.4 681.1 528.5 681.5 C532.2 682.0 537.3 682.2 541.0 681.8 C544.1 681.4 547.9 679.6 551.0 679.2 C557.3 678.5 565.7 679.8 572.0 679.2 C579.6 678.6 589.5 675.8 597.0 674.8 C608.2 673.2 623.3 672.5 634.5 671.0 C638.3 670.5 643.2 669.6 647.0 669.0 C654.5 667.9 664.5 666.1 672.0 665.5 C683.2 664.6 698.4 666.5 709.5 664.8 C717.2 663.5 726.8 658.6 734.5 657.2 C742.6 655.9 753.8 656.7 762.0 656.0 C765.0 655.7 769.0 655.0 772.0 654.8 C777.8 654.2 785.5 654.3 791.2 653.4 C793.6 653.0 796.6 651.7 799.0 651.4 C819.4 648.8 847.0 649.0 867.4 651.4 C870.4 651.8 874.2 653.2 877.2 653.8 C883.0 654.7 890.9 655.0 896.7 655.7 C903.2 656.5 911.8 657.7 918.2 658.6 C921.1 659.0 925.0 659.8 928.0 660.0 C937.6 660.7 960.0 660.0 960.0 660.0 L960.0 720.0 L60.0 720.0 Z" fill="#a0522d"/>
</g>
<g stroke="#000" stroke-width="1.25" stroke-dasharray="2.4 6">
<line x1="76.0" y1="109.80" x2="949.7" y2="109.80"/>
<line x1="76.0" y1="170.68" x2="949.7" y2="170.68"/>
<line x1="76.0" y1="229.56" x2="949.7" y2="229.56"/>
<line x1="76.0" y1="286.58" x2="949.7" y2="286.58"/>
<line x1="76.0" y1="341.84" x2="949.7" y2="341.84"/>
<line x1="76.0" y1="395.45" x2="949.7" y2="395.45"/>
<line x1="76.0" y1="447.50" x2="949.7" y2="447.50"/>
<line x1="76.0" y1="498.09" x2="949.7" y2="498.09"/>
<line x1="76.0" y1="547.30" x2="949.7" y2="547.30"/>
<line x1="76.0" y1="595.19" x2="949.7" y2="595.19"/>
<line x1="76.0" y1="641.83" x2="949.7" y2="641.83"/>
<line x1="76.0" y1="687.30" x2="949.7" y2="687.30"/>
</g>
<g stroke="#adadad" stroke-width="1.5" stroke-dasharray="2 6.1">
<line x1="132.7" y1="48.2" x2="132.7" y2="695.6"/>
<line x1="258.4" y1="48.2" x2="258.4" y2="695.6"/>
<line x1="384.0" y1="48.2" x2="384.0" y2="695.6"/>
<line x1="509.7" y1="48.2" x2="509.7" y2="695.6"/>
<line x1="635.3" y1="48.2" x2="635.3" y2="695.6"/>
<line x1="761.0" y1="48.2" x2="761.0" y2="695.6"/>
<line x1="886.6" y1="48.2" x2="886.6" y2="695.6"/>
</g>
<rect x="70.00" y="45.25" width="879.70" height="650.35" fill="none" stroke="#000" stroke-width="2.3"/>
<g stroke="#000" stroke-width="1.2">
<line x1="132.7" y1="695.6" x2="132.7" y2="701.8"/>
<line x1="258.4" y1="695.6" x2="258.4" y2="701.8"/>
<line x1="384.0" y1="695.6" x2="384.0" y2="701.8"/>
<line x1="509.7" y1="695.6" x2="509.7" y2="701.8"/>
<line x1="635.3" y1="695.6" x2="635.3" y2="701.8"/>
<line x1="761.0" y1="695.6" x2="761.0" y2="701.8"/>
<line x1="886.6" y1="695.6" x2="886.6" y2="701.8"/>
<line x1="59.5" y1="46.78" x2="61.8" y2="46.78"/>
<line x1="59.5" y1="109.80" x2="61.8" y2="109.80"/>
<line x1="59.5" y1="170.68" x2="61.8" y2="170.68"/>
<line x1="59.5" y1="229.56" x2="61.8" y2="229.56"/>
<line x1="59.5" y1="286.58" x2="61.8" y2="286.58"/>
<line x1="59.5" y1="341.84" x2="61.8" y2="341.84"/>
<line x1="59.5" y1="395.45" x2="61.8" y2="395.45"/>
<line x1="59.5" y1="447.50" x2="61.8" y2="447.50"/>
<line x1="59.5" y1="498.09" x2="61.8" y2="498.09"/>
<line x1="59.5" y1="547.30" x2="61.8" y2="547.30"/>
<line x1="59.5" y1="595.19" x2="61.8" y2="595.19"/>
<line x1="59.5" y1="641.83" x2="61.8" y2="641.83"/>
<line x1="59.5" y1="687.30" x2="61.8" y2="687.30"/>
</g>
<g font-family="DejaVu Sans Light, DejaVu Sans, Liberation Sans, sans-serif" font-weight="200">
<text x="149.98" y="29.70" font-size="25.4" fill="#000" stroke="#000" stroke-width="0.40" textLength="163.68" lengthAdjust="spacingAndGlyphs">2026041818</text>
<text x="326.12" y="29.70" font-size="25.4" fill="#000" stroke="#000" stroke-width="0.40" textLength="54.88" lengthAdjust="spacingAndGlyphs">NAM</text>
<text x="391.89" y="29.70" font-size="25.4" fill="#000" stroke="#000" stroke-width="0.40" textLength="114.65" lengthAdjust="spacingAndGlyphs">Forecast</text>
<text x="518.48" y="29.70" font-size="25.4" fill="#000" stroke="#000" stroke-width="0.40" textLength="157.14" lengthAdjust="spacingAndGlyphs">Temperature</text>
<text x="690.80" y="29.70" font-size="25.4" fill="#000" stroke="#000" stroke-width="0.40" textLength="46.80" lengthAdjust="spacingAndGlyphs">(ºC)</text>
<text x="754.00" y="29.70" font-size="25.4" fill="#000" stroke="#000" stroke-width="0.40" textLength="32.57" lengthAdjust="spacingAndGlyphs">for</text>
<text x="800.49" y="29.70" font-size="25.4" fill="#000" stroke="#000" stroke-width="0.40" textLength="69.89" lengthAdjust="spacingAndGlyphs">KAPN</text>
<text x="19.31" y="53.28" font-size="18.8" fill="#222" stroke="#222" stroke-width="0.15" textLength="41.29" lengthAdjust="spacingAndGlyphs">700</text>
<text x="19.35" y="116.30" font-size="18.8" fill="#222" stroke="#222" stroke-width="0.15" textLength="41.20" lengthAdjust="spacingAndGlyphs">725</text>
<text x="19.31" y="177.18" font-size="18.8" fill="#222" stroke="#222" stroke-width="0.15" textLength="41.29" lengthAdjust="spacingAndGlyphs">750</text>
<text x="19.35" y="236.06" font-size="18.8" fill="#222" stroke="#222" stroke-width="0.15" textLength="41.20" lengthAdjust="spacingAndGlyphs">775</text>
<text x="18.31" y="293.08" font-size="18.8" fill="#222" stroke="#222" stroke-width="0.15" textLength="42.29" lengthAdjust="spacingAndGlyphs">800</text>
<text x="18.24" y="348.34" font-size="18.8" fill="#222" stroke="#222" stroke-width="0.15" textLength="42.43" lengthAdjust="spacingAndGlyphs">825</text>
<text x="18.31" y="401.95" font-size="18.8" fill="#222" stroke="#222" stroke-width="0.15" textLength="42.29" lengthAdjust="spacingAndGlyphs">850</text>
<text x="18.24" y="454.00" font-size="18.8" fill="#222" stroke="#222" stroke-width="0.15" textLength="42.43" lengthAdjust="spacingAndGlyphs">875</text>
<text x="18.31" y="504.59" font-size="18.8" fill="#222" stroke="#222" stroke-width="0.15" textLength="42.29" lengthAdjust="spacingAndGlyphs">900</text>
<text x="18.24" y="553.80" font-size="18.8" fill="#222" stroke="#222" stroke-width="0.15" textLength="42.43" lengthAdjust="spacingAndGlyphs">925</text>
<text x="18.31" y="601.69" font-size="18.8" fill="#222" stroke="#222" stroke-width="0.15" textLength="42.29" lengthAdjust="spacingAndGlyphs">950</text>
<text x="18.24" y="648.33" font-size="18.8" fill="#222" stroke="#222" stroke-width="0.15" textLength="42.43" lengthAdjust="spacingAndGlyphs">975</text>
<text x="4.96" y="693.80" font-size="18.8" fill="#222" stroke="#222" stroke-width="0.15" textLength="55.66" lengthAdjust="spacingAndGlyphs">1000</text>
<text x="115.41" y="718.20" font-size="17.3" fill="#000" stroke="#000" stroke-width="0.45" textLength="32.91" lengthAdjust="spacingAndGlyphs">00Z</text>
<text x="104.89" y="737.30" font-size="17.3" fill="#000" stroke="#000" stroke-width="0.45" textLength="55.98" lengthAdjust="spacingAndGlyphs">19APR</text>
<text x="242.78" y="718.20" font-size="17.3" fill="#000" stroke="#000" stroke-width="0.45" textLength="31.07" lengthAdjust="spacingAndGlyphs">12Z</text>
<text x="367.57" y="718.20" font-size="17.3" fill="#000" stroke="#000" stroke-width="0.45" textLength="31.88" lengthAdjust="spacingAndGlyphs">00Z</text>
<text x="357.07" y="737.30" font-size="17.3" fill="#000" stroke="#000" stroke-width="0.45" textLength="54.86" lengthAdjust="spacingAndGlyphs">20APR</text>
<text x="494.93" y="718.20" font-size="17.3" fill="#000" stroke="#000" stroke-width="0.45" textLength="30.95" lengthAdjust="spacingAndGlyphs">12Z</text>
<text x="618.68" y="718.20" font-size="17.3" fill="#000" stroke="#000" stroke-width="0.45" textLength="31.88" lengthAdjust="spacingAndGlyphs">00Z</text>
<text x="608.17" y="737.30" font-size="17.3" fill="#000" stroke="#000" stroke-width="0.45" textLength="54.86" lengthAdjust="spacingAndGlyphs">21APR</text>
<text x="746.06" y="718.20" font-size="17.3" fill="#000" stroke="#000" stroke-width="0.45" textLength="30.92" lengthAdjust="spacingAndGlyphs">12Z</text>
<text x="869.64" y="718.20" font-size="17.3" fill="#000" stroke="#000" stroke-width="0.45" textLength="33.08" lengthAdjust="spacingAndGlyphs">00Z</text>
<text x="859.26" y="737.30" font-size="17.3" fill="#000" stroke="#000" stroke-width="0.45" textLength="54.90" lengthAdjust="spacingAndGlyphs">22APR</text>
<text x="110.67" y="756.20" font-size="17.3" fill="#000" stroke="#000" stroke-width="0.45" textLength="45.26" lengthAdjust="spacingAndGlyphs">2026</text>
<text x="400.99" y="764.75" font-size="19.4" fill="#000" stroke="#000" stroke-width="0.45" textLength="216.81" lengthAdjust="spacingAndGlyphs">Forecast Time (UTC)</text>
<text x="825.48" y="760.60" font-size="16.0" fill="#ff3838" stroke="#ff3838" stroke-width="0.20" textLength="190.04" lengthAdjust="spacingAndGlyphs">coolwx.com/modelts</text>
<text x="1000.55" y="130.90" font-size="12.0" fill="#222" stroke="#222" stroke-width="0.25" textLength="13.91" lengthAdjust="spacingAndGlyphs">12</text>
<text x="1000.69" y="163.40" font-size="12.0" fill="#222" stroke="#222" stroke-width="0.25" textLength="13.47" lengthAdjust="spacingAndGlyphs">10</text>
<text x="1000.76" y="195.90" font-size="12.0" fill="#222" stroke="#222" stroke-width="0.25" textLength="6.69" lengthAdjust="spacingAndGlyphs">8</text>
<text x="1000.76" y="228.40" font-size="12.0" fill="#222" stroke="#222" stroke-width="0.25" textLength="6.69" lengthAdjust="spacingAndGlyphs">6</text>
<text x="1000.78" y="260.90" font-size="12.0" fill="#222" stroke="#222" stroke-width="0.25" textLength="6.51" lengthAdjust="spacingAndGlyphs">4</text>
<text x="1001.70" y="293.40" font-size="12.0" fill="#222" stroke="#222" stroke-width="0.25" textLength="6.51" lengthAdjust="spacingAndGlyphs">2</text>
<text x="1000.73" y="325.90" font-size="12.0" fill="#222" stroke="#222" stroke-width="0.25" textLength="16.46" lengthAdjust="spacingAndGlyphs">−2</text>
<text x="1000.73" y="358.40" font-size="12.0" fill="#222" stroke="#222" stroke-width="0.25" textLength="16.46" lengthAdjust="spacingAndGlyphs">−4</text>
<text x="1000.73" y="390.90" font-size="12.0" fill="#222" stroke="#222" stroke-width="0.25" textLength="16.46" lengthAdjust="spacingAndGlyphs">−6</text>
<text x="1000.73" y="423.40" font-size="12.0" fill="#222" stroke="#222" stroke-width="0.25" textLength="16.46" lengthAdjust="spacingAndGlyphs">−8</text>
<text x="1000.82" y="455.90" font-size="12.0" fill="#222" stroke="#222" stroke-width="0.25" textLength="22.27" lengthAdjust="spacingAndGlyphs">−10</text>
<text x="1000.83" y="488.40" font-size="12.0" fill="#222" stroke="#222" stroke-width="0.25" textLength="22.38" lengthAdjust="spacingAndGlyphs">−12</text>
<text x="1000.84" y="520.90" font-size="12.0" fill="#222" stroke="#222" stroke-width="0.25" textLength="22.38" lengthAdjust="spacingAndGlyphs">−14</text>
<text x="1000.82" y="553.40" font-size="12.0" fill="#222" stroke="#222" stroke-width="0.25" textLength="22.27" lengthAdjust="spacingAndGlyphs">−16</text>
<text x="1000.82" y="585.90" font-size="12.0" fill="#222" stroke="#222" stroke-width="0.25" textLength="22.27" lengthAdjust="spacingAndGlyphs">−18</text>
<text x="1000.82" y="618.40" font-size="12.0" fill="#222" stroke="#222" stroke-width="0.25" textLength="22.27" lengthAdjust="spacingAndGlyphs">−20</text>
</g>
<rect x="976.6" y="93.90" width="20.3" height="32.80" fill="#ff6e00"/>
<rect x="976.6" y="126.40" width="20.3" height="32.80" fill="#ff8c00"/>
<rect x="976.6" y="158.90" width="20.3" height="32.80" fill="#ffa000"/>
<rect x="976.6" y="191.40" width="20.3" height="32.80" fill="#ffbe00"/>
<rect x="976.6" y="223.90" width="20.3" height="32.80" fill="#ffdc00"/>
<rect x="976.6" y="256.40" width="20.3" height="32.80" fill="#ffff00"/>
<rect x="976.6" y="288.90" width="20.3" height="32.80" fill="#ffffff"/>
<rect x="976.6" y="321.40" width="20.3" height="32.80" fill="#50ff00"/>
<rect x="976.6" y="353.90" width="20.3" height="32.80" fill="#00f54b"/>
<rect x="976.6" y="386.40" width="20.3" height="32.80" fill="#00f582"/>
<rect x="976.6" y="418.90" width="20.3" height="32.80" fill="#00f5aa"/>
<rect x="976.6" y="451.40" width="20.3" height="32.80" fill="#00f5d2"/>
<rect x="976.6" y="483.90" width="20.3" height="32.80" fill="#00f0ff"/>
<rect x="976.6" y="516.40" width="20.3" height="32.80" fill="#00b4ff"/>
<rect x="976.6" y="548.90" width="20.3" height="32.80" fill="#0096ff"/>
<rect x="976.6" y="581.40" width="20.3" height="32.80" fill="#0078ff"/>
<rect x="976.6" y="613.90" width="20.3" height="32.80" fill="#0050ff"/>
<path d="M976.6 646.40 V93.90 H996.9 V646.40" fill="none" stroke="#8a8f94" stroke-width="0.9"/>
<line x1="996.9" y1="93.90" x2="996.9" y2="646.40" stroke="#000" stroke-opacity="0.45" stroke-width="0.9"/>
<path d="M976.6 126.40 h4.4 M992.5 126.40 h4.4" stroke="#000" stroke-opacity="0.8" stroke-width="0.9"/>
<path d="M976.6 158.90 h4.4 M992.5 158.90 h4.4" stroke="#000" stroke-opacity="0.8" stroke-width="0.9"/>
<path d="M976.6 191.40 h4.4 M992.5 191.40 h4.4" stroke="#000" stroke-opacity="0.8" stroke-width="0.9"/>
<path d="M976.6 223.90 h4.4 M992.5 223.90 h4.4" stroke="#000" stroke-opacity="0.8" stroke-width="0.9"/>
<path d="M976.6 256.40 h4.4 M992.5 256.40 h4.4" stroke="#000" stroke-opacity="0.8" stroke-width="0.9"/>
<path d="M976.6 288.90 h4.4 M992.5 288.90 h4.4" stroke="#000" stroke-opacity="0.8" stroke-width="0.9"/>
<path d="M976.6 321.40 h4.4 M992.5 321.40 h4.4" stroke="#000" stroke-opacity="0.8" stroke-width="0.9"/>
<path d="M976.6 353.90 h4.4 M992.5 353.90 h4.4" stroke="#000" stroke-opacity="0.8" stroke-width="0.9"/>
<path d="M976.6 386.40 h4.4 M992.5 386.40 h4.4" stroke="#000" stroke-opacity="0.8" stroke-width="0.9"/>
<path d="M976.6 418.90 h4.4 M992.5 418.90 h4.4" stroke="#000" stroke-opacity="0.8" stroke-width="0.9"/>
<path d="M976.6 451.40 h4.4 M992.5 451.40 h4.4" stroke="#000" stroke-opacity="0.8" stroke-width="0.9"/>
<path d="M976.6 483.90 h4.4 M992.5 483.90 h4.4" stroke="#000" stroke-opacity="0.8" stroke-width="0.9"/>
<path d="M976.6 516.40 h4.4 M992.5 516.40 h4.4" stroke="#000" stroke-opacity="0.8" stroke-width="0.9"/>
<path d="M976.6 548.90 h4.4 M992.5 548.90 h4.4" stroke="#000" stroke-opacity="0.8" stroke-width="0.9"/>
<path d="M976.6 581.40 h4.4 M992.5 581.40 h4.4" stroke="#000" stroke-opacity="0.8" stroke-width="0.9"/>
<path d="M976.6 613.90 h4.4 M992.5 613.90 h4.4" stroke="#000" stroke-opacity="0.8" stroke-width="0.9"/>
</svg></body></html>
